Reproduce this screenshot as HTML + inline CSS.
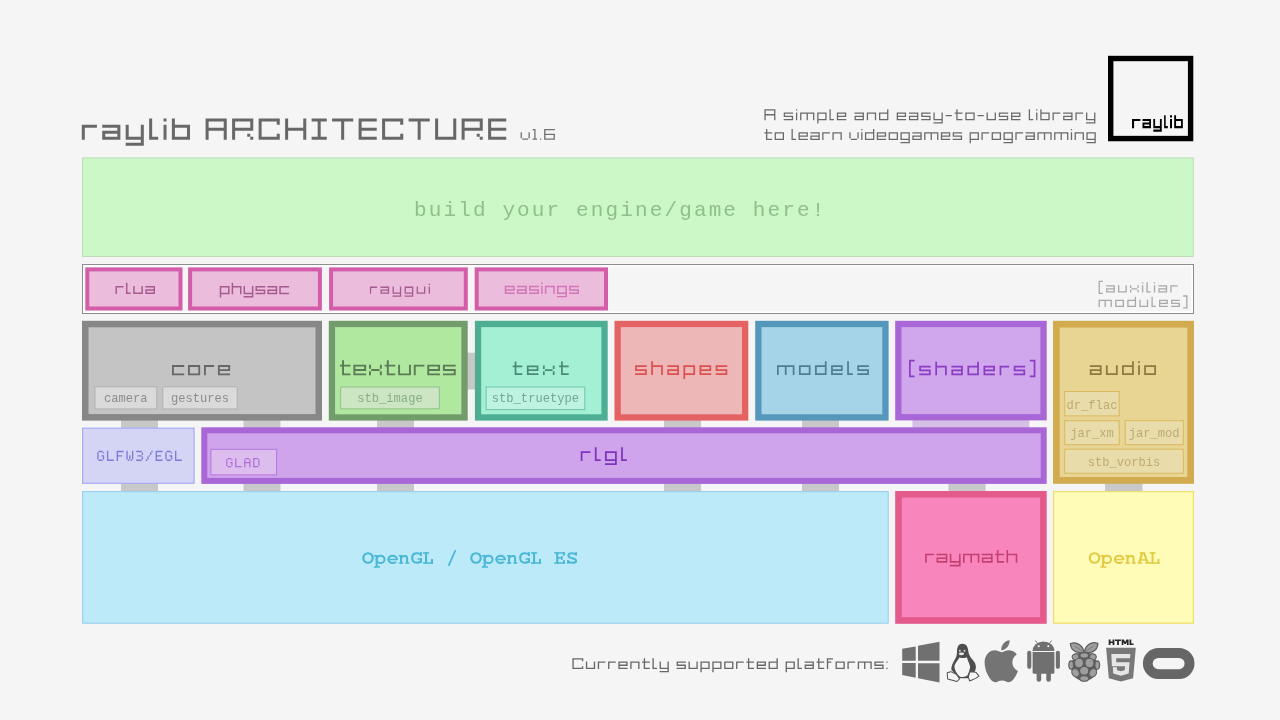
<!DOCTYPE html>
<html><head><meta charset="utf-8"><title>raylib architecture</title>
<style>
html,body{margin:0;padding:0;background:#f5f5f5;width:1280px;height:720px;overflow:hidden;font-family:"Liberation Sans",sans-serif;}
svg{display:block;position:absolute;left:0;top:0;will-change:transform;}
</style></head><body>
<svg width="1280" height="720" viewBox="0 0 1280 720">
<rect x="0" y="0" width="1280" height="720" fill="#f5f5f5"/>
<path fill="#686868" d="M81.80 124.64h15.11v3.02h-15.11zM81.80 127.66h3.02v3.02h-3.02zM81.80 130.69h3.02v3.02h-3.02zM81.80 133.71h3.02v3.02h-3.02zM81.80 136.73h3.02v3.02h-3.02zM102.23 124.64h18.13v3.02h-18.13zM117.34 127.66h3.02v3.02h-3.02zM102.23 130.69h18.13v3.02h-18.13zM102.23 133.71h3.02v3.02h-3.02zM117.34 133.71h3.02v3.02h-3.02zM102.23 136.73h18.13v3.02h-18.13zM125.68 124.64h3.02v3.02h-3.02zM140.79 124.64h3.02v3.02h-3.02zM125.68 127.66h3.02v3.02h-3.02zM140.79 127.66h3.02v3.02h-3.02zM125.68 130.69h3.02v3.02h-3.02zM140.79 130.69h3.02v3.02h-3.02zM125.68 133.71h3.02v3.02h-3.02zM140.79 133.71h3.02v3.02h-3.02zM125.68 136.73h18.13v3.02h-18.13zM140.79 139.75h3.02v3.02h-3.02zM125.68 142.77h18.13v3.02h-18.13zM149.14 118.60h3.02v3.02h-3.02zM149.14 121.62h3.02v3.02h-3.02zM149.14 124.64h3.02v3.02h-3.02zM149.14 127.66h3.02v3.02h-3.02zM149.14 130.69h3.02v3.02h-3.02zM149.14 133.71h3.02v3.02h-3.02zM149.14 136.73h9.06v3.02h-9.06zM163.53 118.60h3.02v3.02h-3.02zM163.53 124.64h3.02v3.02h-3.02zM163.53 127.66h3.02v3.02h-3.02zM163.53 130.69h3.02v3.02h-3.02zM163.53 133.71h3.02v3.02h-3.02zM163.53 136.73h3.02v3.02h-3.02zM171.87 118.60h3.02v3.02h-3.02zM171.87 121.62h3.02v3.02h-3.02zM171.87 124.64h18.13v3.02h-18.13zM171.87 127.66h3.02v3.02h-3.02zM186.98 127.66h3.02v3.02h-3.02zM171.87 130.69h3.02v3.02h-3.02zM186.98 130.69h3.02v3.02h-3.02zM171.87 133.71h3.02v3.02h-3.02zM186.98 133.71h3.02v3.02h-3.02zM171.87 136.73h18.13v3.02h-18.13z"/>
<path fill="#686868" d="M205.60 118.60h21.15v3.02h-21.15zM205.60 121.62h3.02v3.02h-3.02zM223.73 121.62h3.02v3.02h-3.02zM205.60 124.64h3.02v3.02h-3.02zM223.73 124.64h3.02v3.02h-3.02zM205.60 127.66h21.15v3.02h-21.15zM205.60 130.69h3.02v3.02h-3.02zM223.73 130.69h3.02v3.02h-3.02zM205.60 133.71h3.02v3.02h-3.02zM223.73 133.71h3.02v3.02h-3.02zM205.60 136.73h3.02v3.02h-3.02zM223.73 136.73h3.02v3.02h-3.02zM232.11 118.60h21.15v3.02h-21.15zM232.11 121.62h3.02v3.02h-3.02zM250.24 121.62h3.02v3.02h-3.02zM232.11 124.64h3.02v3.02h-3.02zM250.24 124.64h3.02v3.02h-3.02zM232.11 127.66h21.15v3.02h-21.15zM232.11 130.69h3.02v3.02h-3.02zM232.11 133.71h3.02v3.02h-3.02zM247.21 133.71h3.02v3.02h-3.02zM232.11 136.73h3.02v3.02h-3.02zM250.24 136.73h3.02v3.02h-3.02zM258.62 118.60h21.15v3.02h-21.15zM258.62 121.62h3.02v3.02h-3.02zM276.74 121.62h3.02v3.02h-3.02zM258.62 124.64h3.02v3.02h-3.02zM258.62 127.66h3.02v3.02h-3.02zM258.62 130.69h3.02v3.02h-3.02zM258.62 133.71h3.02v3.02h-3.02zM276.74 133.71h3.02v3.02h-3.02zM258.62 136.73h21.15v3.02h-21.15zM285.12 118.60h3.02v3.02h-3.02zM303.25 118.60h3.02v3.02h-3.02zM285.12 121.62h3.02v3.02h-3.02zM303.25 121.62h3.02v3.02h-3.02zM285.12 124.64h3.02v3.02h-3.02zM303.25 124.64h3.02v3.02h-3.02zM285.12 127.66h21.15v3.02h-21.15zM285.12 130.69h3.02v3.02h-3.02zM303.25 130.69h3.02v3.02h-3.02zM285.12 133.71h3.02v3.02h-3.02zM303.25 133.71h3.02v3.02h-3.02zM285.12 136.73h3.02v3.02h-3.02zM303.25 136.73h3.02v3.02h-3.02zM311.63 118.60h15.11v3.02h-15.11zM317.67 121.62h3.02v3.02h-3.02zM317.67 124.64h3.02v3.02h-3.02zM317.67 127.66h3.02v3.02h-3.02zM317.67 130.69h3.02v3.02h-3.02zM317.67 133.71h3.02v3.02h-3.02zM311.63 136.73h15.11v3.02h-15.11zM332.10 118.60h21.15v3.02h-21.15zM341.16 121.62h3.02v3.02h-3.02zM341.16 124.64h3.02v3.02h-3.02zM341.16 127.66h3.02v3.02h-3.02zM341.16 130.69h3.02v3.02h-3.02zM341.16 133.71h3.02v3.02h-3.02zM341.16 136.73h3.02v3.02h-3.02zM358.60 118.60h18.13v3.02h-18.13zM358.60 121.62h3.02v3.02h-3.02zM358.60 124.64h3.02v3.02h-3.02zM358.60 127.66h18.13v3.02h-18.13zM358.60 130.69h3.02v3.02h-3.02zM358.60 133.71h3.02v3.02h-3.02zM358.60 136.73h18.13v3.02h-18.13zM382.09 118.60h21.15v3.02h-21.15zM382.09 121.62h3.02v3.02h-3.02zM400.22 121.62h3.02v3.02h-3.02zM382.09 124.64h3.02v3.02h-3.02zM382.09 127.66h3.02v3.02h-3.02zM382.09 130.69h3.02v3.02h-3.02zM382.09 133.71h3.02v3.02h-3.02zM400.22 133.71h3.02v3.02h-3.02zM382.09 136.73h21.15v3.02h-21.15zM408.60 118.60h21.15v3.02h-21.15zM417.66 121.62h3.02v3.02h-3.02zM417.66 124.64h3.02v3.02h-3.02zM417.66 127.66h3.02v3.02h-3.02zM417.66 130.69h3.02v3.02h-3.02zM417.66 133.71h3.02v3.02h-3.02zM417.66 136.73h3.02v3.02h-3.02zM435.11 118.60h3.02v3.02h-3.02zM453.23 118.60h3.02v3.02h-3.02zM435.11 121.62h3.02v3.02h-3.02zM453.23 121.62h3.02v3.02h-3.02zM435.11 124.64h3.02v3.02h-3.02zM453.23 124.64h3.02v3.02h-3.02zM435.11 127.66h3.02v3.02h-3.02zM453.23 127.66h3.02v3.02h-3.02zM435.11 130.69h3.02v3.02h-3.02zM453.23 130.69h3.02v3.02h-3.02zM435.11 133.71h3.02v3.02h-3.02zM453.23 133.71h3.02v3.02h-3.02zM435.11 136.73h21.15v3.02h-21.15zM461.61 118.60h21.15v3.02h-21.15zM461.61 121.62h3.02v3.02h-3.02zM479.74 121.62h3.02v3.02h-3.02zM461.61 124.64h3.02v3.02h-3.02zM479.74 124.64h3.02v3.02h-3.02zM461.61 127.66h21.15v3.02h-21.15zM461.61 130.69h3.02v3.02h-3.02zM461.61 133.71h3.02v3.02h-3.02zM476.72 133.71h3.02v3.02h-3.02zM461.61 136.73h3.02v3.02h-3.02zM479.74 136.73h3.02v3.02h-3.02zM488.12 118.60h18.13v3.02h-18.13zM488.12 121.62h3.02v3.02h-3.02zM488.12 124.64h3.02v3.02h-3.02zM488.12 127.66h18.13v3.02h-18.13zM488.12 130.69h3.02v3.02h-3.02zM488.12 133.71h3.02v3.02h-3.02zM488.12 136.73h18.13v3.02h-18.13z"/>
<path fill="#737373" d="M520.60 132.15h1.34v1.34h-1.34zM528.48 132.15h1.34v1.34h-1.34zM520.60 133.73h1.34v1.34h-1.34zM528.48 133.73h1.34v1.34h-1.34zM520.60 135.31h1.34v1.34h-1.34zM528.48 135.31h1.34v1.34h-1.34zM520.60 136.88h1.34v1.34h-1.34zM528.48 136.88h1.34v1.34h-1.34zM522.18 138.46h6.07v1.34h-6.07zM520.60 132.15h1.34v6.07h-1.34zM528.48 132.15h1.34v6.07h-1.34zM532.64 129.00h2.92v1.34h-2.92zM534.21 130.58h1.34v1.34h-1.34zM534.21 132.15h1.34v1.34h-1.34zM534.21 133.73h1.34v1.34h-1.34zM534.21 135.31h1.34v1.34h-1.34zM534.21 136.88h1.34v1.34h-1.34zM532.64 138.46h4.49v1.34h-4.49zM534.21 129.00h1.34v10.80h-1.34zM539.95 138.46h1.34v1.34h-1.34zM544.10 129.00h10.80v1.34h-10.80zM544.10 130.58h1.34v1.34h-1.34zM544.10 132.15h1.34v1.34h-1.34zM544.10 133.73h10.80v1.34h-10.80zM544.10 135.31h1.34v1.34h-1.34zM553.56 135.31h1.34v1.34h-1.34zM544.10 136.88h1.34v1.34h-1.34zM553.56 136.88h1.34v1.34h-1.34zM544.10 138.46h10.80v1.34h-10.80zM544.10 129.00h1.34v10.80h-1.34zM553.56 133.73h1.34v6.07h-1.34z"/>
<path fill="#6a6a6a" d="M764.40 109.25h11.00v1.29h-11.00zM764.40 110.87h1.29v1.29h-1.29zM774.11 110.87h1.29v1.29h-1.29zM764.40 112.49h1.29v1.29h-1.29zM774.11 112.49h1.29v1.29h-1.29zM764.40 114.10h11.00v1.29h-11.00zM764.40 115.72h1.29v1.29h-1.29zM774.11 115.72h1.29v1.29h-1.29zM764.40 117.34h1.29v1.29h-1.29zM774.11 117.34h1.29v1.29h-1.29zM764.40 118.96h1.29v1.29h-1.29zM774.11 118.96h1.29v1.29h-1.29zM764.40 109.25h1.29v11.00h-1.29zM774.11 109.25h1.29v11.00h-1.29zM783.71 112.49h9.38v1.29h-9.38zM783.71 114.10h1.29v1.29h-1.29zM783.71 115.72h9.38v1.29h-9.38zM791.80 117.34h1.29v1.29h-1.29zM783.71 118.96h9.38v1.29h-9.38zM783.71 112.49h1.29v4.53h-1.29zM791.80 115.72h1.29v4.53h-1.29zM795.95 109.25h1.29v1.29h-1.29zM795.95 112.49h1.29v1.29h-1.29zM795.95 114.10h1.29v1.29h-1.29zM795.95 115.72h1.29v1.29h-1.29zM795.95 117.34h1.29v1.29h-1.29zM795.95 118.96h1.29v1.29h-1.29zM795.95 112.49h1.29v7.76h-1.29zM800.11 112.49h14.24v1.29h-14.24zM800.11 114.10h1.29v1.29h-1.29zM806.58 114.10h1.29v1.29h-1.29zM813.05 114.10h1.29v1.29h-1.29zM800.11 115.72h1.29v1.29h-1.29zM806.58 115.72h1.29v1.29h-1.29zM813.05 115.72h1.29v1.29h-1.29zM800.11 117.34h1.29v1.29h-1.29zM806.58 117.34h1.29v1.29h-1.29zM813.05 117.34h1.29v1.29h-1.29zM800.11 118.96h1.29v1.29h-1.29zM806.58 118.96h1.29v1.29h-1.29zM813.05 118.96h1.29v1.29h-1.29zM800.11 112.49h1.29v7.76h-1.29zM806.58 112.49h1.29v7.76h-1.29zM813.05 112.49h1.29v7.76h-1.29zM817.20 112.49h9.38v1.29h-9.38zM817.20 114.10h1.29v1.29h-1.29zM825.29 114.10h1.29v1.29h-1.29zM817.20 115.72h1.29v1.29h-1.29zM825.29 115.72h1.29v1.29h-1.29zM817.20 117.34h1.29v1.29h-1.29zM825.29 117.34h1.29v1.29h-1.29zM817.20 118.96h9.38v1.29h-9.38zM817.20 120.57h1.29v1.29h-1.29zM817.20 122.19h1.29v1.29h-1.29zM817.20 112.49h1.29v11.00h-1.29zM825.29 112.49h1.29v7.76h-1.29zM829.45 109.25h1.29v1.29h-1.29zM829.45 110.87h1.29v1.29h-1.29zM829.45 112.49h1.29v1.29h-1.29zM829.45 114.10h1.29v1.29h-1.29zM829.45 115.72h1.29v1.29h-1.29zM829.45 117.34h1.29v1.29h-1.29zM829.45 118.96h4.53v1.29h-4.53zM829.45 109.25h1.29v11.00h-1.29zM836.84 112.49h9.38v1.29h-9.38zM836.84 114.10h1.29v1.29h-1.29zM844.92 114.10h1.29v1.29h-1.29zM836.84 115.72h9.38v1.29h-9.38zM836.84 117.34h1.29v1.29h-1.29zM836.84 118.96h9.38v1.29h-9.38zM836.84 112.49h1.29v7.76h-1.29zM844.92 112.49h1.29v4.53h-1.29zM854.53 112.49h9.38v1.29h-9.38zM862.62 114.10h1.29v1.29h-1.29zM854.53 115.72h9.38v1.29h-9.38zM854.53 117.34h1.29v1.29h-1.29zM862.62 117.34h1.29v1.29h-1.29zM854.53 118.96h9.38v1.29h-9.38zM854.53 115.72h1.29v4.53h-1.29zM862.62 112.49h1.29v7.76h-1.29zM866.77 112.49h9.38v1.29h-9.38zM866.77 114.10h1.29v1.29h-1.29zM874.86 114.10h1.29v1.29h-1.29zM866.77 115.72h1.29v1.29h-1.29zM874.86 115.72h1.29v1.29h-1.29zM866.77 117.34h1.29v1.29h-1.29zM874.86 117.34h1.29v1.29h-1.29zM866.77 118.96h1.29v1.29h-1.29zM874.86 118.96h1.29v1.29h-1.29zM866.77 112.49h1.29v7.76h-1.29zM874.86 112.49h1.29v7.76h-1.29zM887.10 109.25h1.29v1.29h-1.29zM887.10 110.87h1.29v1.29h-1.29zM879.01 112.49h9.38v1.29h-9.38zM879.01 114.10h1.29v1.29h-1.29zM887.10 114.10h1.29v1.29h-1.29zM879.01 115.72h1.29v1.29h-1.29zM887.10 115.72h1.29v1.29h-1.29zM879.01 117.34h1.29v1.29h-1.29zM887.10 117.34h1.29v1.29h-1.29zM879.01 118.96h9.38v1.29h-9.38zM879.01 112.49h1.29v7.76h-1.29zM887.10 109.25h1.29v11.00h-1.29zM896.70 112.49h9.38v1.29h-9.38zM896.70 114.10h1.29v1.29h-1.29zM904.79 114.10h1.29v1.29h-1.29zM896.70 115.72h9.38v1.29h-9.38zM896.70 117.34h1.29v1.29h-1.29zM896.70 118.96h9.38v1.29h-9.38zM896.70 112.49h1.29v7.76h-1.29zM904.79 112.49h1.29v4.53h-1.29zM908.95 112.49h9.38v1.29h-9.38zM917.04 114.10h1.29v1.29h-1.29zM908.95 115.72h9.38v1.29h-9.38zM908.95 117.34h1.29v1.29h-1.29zM917.04 117.34h1.29v1.29h-1.29zM908.95 118.96h9.38v1.29h-9.38zM908.95 115.72h1.29v4.53h-1.29zM917.04 112.49h1.29v7.76h-1.29zM921.19 112.49h9.38v1.29h-9.38zM921.19 114.10h1.29v1.29h-1.29zM921.19 115.72h9.38v1.29h-9.38zM929.28 117.34h1.29v1.29h-1.29zM921.19 118.96h9.38v1.29h-9.38zM921.19 112.49h1.29v4.53h-1.29zM929.28 115.72h1.29v4.53h-1.29zM933.43 112.49h1.29v1.29h-1.29zM941.52 112.49h1.29v1.29h-1.29zM933.43 114.10h1.29v1.29h-1.29zM941.52 114.10h1.29v1.29h-1.29zM933.43 115.72h1.29v1.29h-1.29zM941.52 115.72h1.29v1.29h-1.29zM933.43 117.34h1.29v1.29h-1.29zM941.52 117.34h1.29v1.29h-1.29zM933.43 118.96h9.38v1.29h-9.38zM941.52 120.57h1.29v1.29h-1.29zM933.43 122.19h9.38v1.29h-9.38zM933.43 112.49h1.29v7.76h-1.29zM941.52 112.49h1.29v11.00h-1.29zM945.68 114.91h6.15v1.29h-6.15zM956.30 109.25h1.29v1.29h-1.29zM956.30 110.87h1.29v1.29h-1.29zM954.68 112.49h7.76v1.29h-7.76zM956.30 114.10h1.29v1.29h-1.29zM956.30 115.72h1.29v1.29h-1.29zM956.30 117.34h1.29v1.29h-1.29zM956.30 118.96h6.15v1.29h-6.15zM956.30 109.25h1.29v11.00h-1.29zM965.31 112.49h9.38v1.29h-9.38zM965.31 114.10h1.29v1.29h-1.29zM973.40 114.10h1.29v1.29h-1.29zM965.31 115.72h1.29v1.29h-1.29zM973.40 115.72h1.29v1.29h-1.29zM965.31 117.34h1.29v1.29h-1.29zM973.40 117.34h1.29v1.29h-1.29zM965.31 118.96h9.38v1.29h-9.38zM965.31 112.49h1.29v7.76h-1.29zM973.40 112.49h1.29v7.76h-1.29zM977.55 114.91h6.15v1.29h-6.15zM986.56 112.49h1.29v1.29h-1.29zM994.65 112.49h1.29v1.29h-1.29zM986.56 114.10h1.29v1.29h-1.29zM994.65 114.10h1.29v1.29h-1.29zM986.56 115.72h1.29v1.29h-1.29zM994.65 115.72h1.29v1.29h-1.29zM986.56 117.34h1.29v1.29h-1.29zM994.65 117.34h1.29v1.29h-1.29zM986.56 118.96h9.38v1.29h-9.38zM986.56 112.49h1.29v7.76h-1.29zM994.65 112.49h1.29v7.76h-1.29zM998.80 112.49h9.38v1.29h-9.38zM998.80 114.10h1.29v1.29h-1.29zM998.80 115.72h9.38v1.29h-9.38zM1006.89 117.34h1.29v1.29h-1.29zM998.80 118.96h9.38v1.29h-9.38zM998.80 112.49h1.29v4.53h-1.29zM1006.89 115.72h1.29v4.53h-1.29zM1011.05 112.49h9.38v1.29h-9.38zM1011.05 114.10h1.29v1.29h-1.29zM1019.13 114.10h1.29v1.29h-1.29zM1011.05 115.72h9.38v1.29h-9.38zM1011.05 117.34h1.29v1.29h-1.29zM1011.05 118.96h9.38v1.29h-9.38zM1011.05 112.49h1.29v7.76h-1.29zM1019.13 112.49h1.29v4.53h-1.29zM1028.74 109.25h1.29v1.29h-1.29zM1028.74 110.87h1.29v1.29h-1.29zM1028.74 112.49h1.29v1.29h-1.29zM1028.74 114.10h1.29v1.29h-1.29zM1028.74 115.72h1.29v1.29h-1.29zM1028.74 117.34h1.29v1.29h-1.29zM1028.74 118.96h4.53v1.29h-4.53zM1028.74 109.25h1.29v11.00h-1.29zM1036.13 109.25h1.29v1.29h-1.29zM1036.13 112.49h1.29v1.29h-1.29zM1036.13 114.10h1.29v1.29h-1.29zM1036.13 115.72h1.29v1.29h-1.29zM1036.13 117.34h1.29v1.29h-1.29zM1036.13 118.96h1.29v1.29h-1.29zM1036.13 112.49h1.29v7.76h-1.29zM1040.28 109.25h1.29v1.29h-1.29zM1040.28 110.87h1.29v1.29h-1.29zM1040.28 112.49h9.38v1.29h-9.38zM1040.28 114.10h1.29v1.29h-1.29zM1048.37 114.10h1.29v1.29h-1.29zM1040.28 115.72h1.29v1.29h-1.29zM1048.37 115.72h1.29v1.29h-1.29zM1040.28 117.34h1.29v1.29h-1.29zM1048.37 117.34h1.29v1.29h-1.29zM1040.28 118.96h9.38v1.29h-9.38zM1040.28 109.25h1.29v11.00h-1.29zM1048.37 112.49h1.29v7.76h-1.29zM1052.52 112.49h7.76v1.29h-7.76zM1052.52 114.10h1.29v1.29h-1.29zM1052.52 115.72h1.29v1.29h-1.29zM1052.52 117.34h1.29v1.29h-1.29zM1052.52 118.96h1.29v1.29h-1.29zM1052.52 112.49h1.29v7.76h-1.29zM1063.15 112.49h9.38v1.29h-9.38zM1071.24 114.10h1.29v1.29h-1.29zM1063.15 115.72h9.38v1.29h-9.38zM1063.15 117.34h1.29v1.29h-1.29zM1071.24 117.34h1.29v1.29h-1.29zM1063.15 118.96h9.38v1.29h-9.38zM1063.15 115.72h1.29v4.53h-1.29zM1071.24 112.49h1.29v7.76h-1.29zM1075.39 112.49h7.76v1.29h-7.76zM1075.39 114.10h1.29v1.29h-1.29zM1075.39 115.72h1.29v1.29h-1.29zM1075.39 117.34h1.29v1.29h-1.29zM1075.39 118.96h1.29v1.29h-1.29zM1075.39 112.49h1.29v7.76h-1.29zM1086.02 112.49h1.29v1.29h-1.29zM1094.11 112.49h1.29v1.29h-1.29zM1086.02 114.10h1.29v1.29h-1.29zM1094.11 114.10h1.29v1.29h-1.29zM1086.02 115.72h1.29v1.29h-1.29zM1094.11 115.72h1.29v1.29h-1.29zM1086.02 117.34h1.29v1.29h-1.29zM1094.11 117.34h1.29v1.29h-1.29zM1086.02 118.96h9.38v1.29h-9.38zM1094.11 120.57h1.29v1.29h-1.29zM1086.02 122.19h9.38v1.29h-9.38zM1086.02 112.49h1.29v7.76h-1.29zM1094.11 112.49h1.29v11.00h-1.29z"/>
<path fill="#6a6a6a" d="M766.02 129.00h1.29v1.29h-1.29zM766.02 130.62h1.29v1.29h-1.29zM764.40 132.24h7.76v1.29h-7.76zM766.02 133.85h1.29v1.29h-1.29zM766.02 135.47h1.29v1.29h-1.29zM766.02 137.09h1.29v1.29h-1.29zM766.02 138.71h6.15v1.29h-6.15zM766.02 129.00h1.29v11.00h-1.29zM774.63 132.24h9.38v1.29h-9.38zM774.63 133.85h1.29v1.29h-1.29zM782.72 133.85h1.29v1.29h-1.29zM774.63 135.47h1.29v1.29h-1.29zM782.72 135.47h1.29v1.29h-1.29zM774.63 137.09h1.29v1.29h-1.29zM782.72 137.09h1.29v1.29h-1.29zM774.63 138.71h9.38v1.29h-9.38zM774.63 132.24h1.29v7.76h-1.29zM782.72 132.24h1.29v7.76h-1.29zM791.52 129.00h1.29v1.29h-1.29zM791.52 130.62h1.29v1.29h-1.29zM791.52 132.24h1.29v1.29h-1.29zM791.52 133.85h1.29v1.29h-1.29zM791.52 135.47h1.29v1.29h-1.29zM791.52 137.09h1.29v1.29h-1.29zM791.52 138.71h4.53v1.29h-4.53zM791.52 129.00h1.29v11.00h-1.29zM798.51 132.24h9.38v1.29h-9.38zM798.51 133.85h1.29v1.29h-1.29zM806.60 133.85h1.29v1.29h-1.29zM798.51 135.47h9.38v1.29h-9.38zM798.51 137.09h1.29v1.29h-1.29zM798.51 138.71h9.38v1.29h-9.38zM798.51 132.24h1.29v7.76h-1.29zM806.60 132.24h1.29v4.53h-1.29zM810.36 132.24h9.38v1.29h-9.38zM818.45 133.85h1.29v1.29h-1.29zM810.36 135.47h9.38v1.29h-9.38zM810.36 137.09h1.29v1.29h-1.29zM818.45 137.09h1.29v1.29h-1.29zM810.36 138.71h9.38v1.29h-9.38zM810.36 135.47h1.29v4.53h-1.29zM818.45 132.24h1.29v7.76h-1.29zM822.20 132.24h7.76v1.29h-7.76zM822.20 133.85h1.29v1.29h-1.29zM822.20 135.47h1.29v1.29h-1.29zM822.20 137.09h1.29v1.29h-1.29zM822.20 138.71h1.29v1.29h-1.29zM822.20 132.24h1.29v7.76h-1.29zM832.43 132.24h9.38v1.29h-9.38zM832.43 133.85h1.29v1.29h-1.29zM840.52 133.85h1.29v1.29h-1.29zM832.43 135.47h1.29v1.29h-1.29zM840.52 135.47h1.29v1.29h-1.29zM832.43 137.09h1.29v1.29h-1.29zM840.52 137.09h1.29v1.29h-1.29zM832.43 138.71h1.29v1.29h-1.29zM840.52 138.71h1.29v1.29h-1.29zM832.43 132.24h1.29v7.76h-1.29zM840.52 132.24h1.29v7.76h-1.29zM849.33 132.24h1.29v1.29h-1.29zM857.41 132.24h1.29v1.29h-1.29zM849.33 133.85h1.29v1.29h-1.29zM857.41 133.85h1.29v1.29h-1.29zM849.33 135.47h1.29v1.29h-1.29zM857.41 135.47h1.29v1.29h-1.29zM849.33 137.09h1.29v1.29h-1.29zM857.41 137.09h1.29v1.29h-1.29zM850.94 138.71h6.15v1.29h-6.15zM849.33 132.24h1.29v6.15h-1.29zM857.41 132.24h1.29v6.15h-1.29zM861.17 129.00h1.29v1.29h-1.29zM861.17 132.24h1.29v1.29h-1.29zM861.17 133.85h1.29v1.29h-1.29zM861.17 135.47h1.29v1.29h-1.29zM861.17 137.09h1.29v1.29h-1.29zM861.17 138.71h1.29v1.29h-1.29zM861.17 132.24h1.29v7.76h-1.29zM873.02 129.00h1.29v1.29h-1.29zM873.02 130.62h1.29v1.29h-1.29zM864.93 132.24h9.38v1.29h-9.38zM864.93 133.85h1.29v1.29h-1.29zM873.02 133.85h1.29v1.29h-1.29zM864.93 135.47h1.29v1.29h-1.29zM873.02 135.47h1.29v1.29h-1.29zM864.93 137.09h1.29v1.29h-1.29zM873.02 137.09h1.29v1.29h-1.29zM864.93 138.71h9.38v1.29h-9.38zM864.93 132.24h1.29v7.76h-1.29zM873.02 129.00h1.29v11.00h-1.29zM876.77 132.24h9.38v1.29h-9.38zM876.77 133.85h1.29v1.29h-1.29zM884.86 133.85h1.29v1.29h-1.29zM876.77 135.47h9.38v1.29h-9.38zM876.77 137.09h1.29v1.29h-1.29zM876.77 138.71h9.38v1.29h-9.38zM876.77 132.24h1.29v7.76h-1.29zM884.86 132.24h1.29v4.53h-1.29zM888.62 132.24h9.38v1.29h-9.38zM888.62 133.85h1.29v1.29h-1.29zM896.70 133.85h1.29v1.29h-1.29zM888.62 135.47h1.29v1.29h-1.29zM896.70 135.47h1.29v1.29h-1.29zM888.62 137.09h1.29v1.29h-1.29zM896.70 137.09h1.29v1.29h-1.29zM888.62 138.71h9.38v1.29h-9.38zM888.62 132.24h1.29v7.76h-1.29zM896.70 132.24h1.29v7.76h-1.29zM900.46 132.24h9.38v1.29h-9.38zM900.46 133.85h1.29v1.29h-1.29zM908.55 133.85h1.29v1.29h-1.29zM900.46 135.47h1.29v1.29h-1.29zM908.55 135.47h1.29v1.29h-1.29zM900.46 137.09h1.29v1.29h-1.29zM908.55 137.09h1.29v1.29h-1.29zM900.46 138.71h9.38v1.29h-9.38zM908.55 140.32h1.29v1.29h-1.29zM900.46 141.94h9.38v1.29h-9.38zM900.46 132.24h1.29v7.76h-1.29zM908.55 132.24h1.29v11.00h-1.29zM912.31 132.24h9.38v1.29h-9.38zM920.39 133.85h1.29v1.29h-1.29zM912.31 135.47h9.38v1.29h-9.38zM912.31 137.09h1.29v1.29h-1.29zM920.39 137.09h1.29v1.29h-1.29zM912.31 138.71h9.38v1.29h-9.38zM912.31 135.47h1.29v4.53h-1.29zM920.39 132.24h1.29v7.76h-1.29zM924.15 132.24h14.24v1.29h-14.24zM924.15 133.85h1.29v1.29h-1.29zM930.62 133.85h1.29v1.29h-1.29zM937.09 133.85h1.29v1.29h-1.29zM924.15 135.47h1.29v1.29h-1.29zM930.62 135.47h1.29v1.29h-1.29zM937.09 135.47h1.29v1.29h-1.29zM924.15 137.09h1.29v1.29h-1.29zM930.62 137.09h1.29v1.29h-1.29zM937.09 137.09h1.29v1.29h-1.29zM924.15 138.71h1.29v1.29h-1.29zM930.62 138.71h1.29v1.29h-1.29zM937.09 138.71h1.29v1.29h-1.29zM924.15 132.24h1.29v7.76h-1.29zM930.62 132.24h1.29v7.76h-1.29zM937.09 132.24h1.29v7.76h-1.29zM940.85 132.24h9.38v1.29h-9.38zM940.85 133.85h1.29v1.29h-1.29zM948.94 133.85h1.29v1.29h-1.29zM940.85 135.47h9.38v1.29h-9.38zM940.85 137.09h1.29v1.29h-1.29zM940.85 138.71h9.38v1.29h-9.38zM940.85 132.24h1.29v7.76h-1.29zM948.94 132.24h1.29v4.53h-1.29zM952.69 132.24h9.38v1.29h-9.38zM952.69 133.85h1.29v1.29h-1.29zM952.69 135.47h9.38v1.29h-9.38zM960.78 137.09h1.29v1.29h-1.29zM952.69 138.71h9.38v1.29h-9.38zM952.69 132.24h1.29v4.53h-1.29zM960.78 135.47h1.29v4.53h-1.29zM969.59 132.24h9.38v1.29h-9.38zM969.59 133.85h1.29v1.29h-1.29zM977.68 133.85h1.29v1.29h-1.29zM969.59 135.47h1.29v1.29h-1.29zM977.68 135.47h1.29v1.29h-1.29zM969.59 137.09h1.29v1.29h-1.29zM977.68 137.09h1.29v1.29h-1.29zM969.59 138.71h9.38v1.29h-9.38zM969.59 140.32h1.29v1.29h-1.29zM969.59 141.94h1.29v1.29h-1.29zM969.59 132.24h1.29v11.00h-1.29zM977.68 132.24h1.29v7.76h-1.29zM981.43 132.24h7.76v1.29h-7.76zM981.43 133.85h1.29v1.29h-1.29zM981.43 135.47h1.29v1.29h-1.29zM981.43 137.09h1.29v1.29h-1.29zM981.43 138.71h1.29v1.29h-1.29zM981.43 132.24h1.29v7.76h-1.29zM991.66 132.24h9.38v1.29h-9.38zM991.66 133.85h1.29v1.29h-1.29zM999.75 133.85h1.29v1.29h-1.29zM991.66 135.47h1.29v1.29h-1.29zM999.75 135.47h1.29v1.29h-1.29zM991.66 137.09h1.29v1.29h-1.29zM999.75 137.09h1.29v1.29h-1.29zM991.66 138.71h9.38v1.29h-9.38zM991.66 132.24h1.29v7.76h-1.29zM999.75 132.24h1.29v7.76h-1.29zM1003.50 132.24h9.38v1.29h-9.38zM1003.50 133.85h1.29v1.29h-1.29zM1011.59 133.85h1.29v1.29h-1.29zM1003.50 135.47h1.29v1.29h-1.29zM1011.59 135.47h1.29v1.29h-1.29zM1003.50 137.09h1.29v1.29h-1.29zM1011.59 137.09h1.29v1.29h-1.29zM1003.50 138.71h9.38v1.29h-9.38zM1011.59 140.32h1.29v1.29h-1.29zM1003.50 141.94h9.38v1.29h-9.38zM1003.50 132.24h1.29v7.76h-1.29zM1011.59 132.24h1.29v11.00h-1.29zM1015.35 132.24h7.76v1.29h-7.76zM1015.35 133.85h1.29v1.29h-1.29zM1015.35 135.47h1.29v1.29h-1.29zM1015.35 137.09h1.29v1.29h-1.29zM1015.35 138.71h1.29v1.29h-1.29zM1015.35 132.24h1.29v7.76h-1.29zM1025.58 132.24h9.38v1.29h-9.38zM1033.66 133.85h1.29v1.29h-1.29zM1025.58 135.47h9.38v1.29h-9.38zM1025.58 137.09h1.29v1.29h-1.29zM1033.66 137.09h1.29v1.29h-1.29zM1025.58 138.71h9.38v1.29h-9.38zM1025.58 135.47h1.29v4.53h-1.29zM1033.66 132.24h1.29v7.76h-1.29zM1037.42 132.24h14.24v1.29h-14.24zM1037.42 133.85h1.29v1.29h-1.29zM1043.89 133.85h1.29v1.29h-1.29zM1050.36 133.85h1.29v1.29h-1.29zM1037.42 135.47h1.29v1.29h-1.29zM1043.89 135.47h1.29v1.29h-1.29zM1050.36 135.47h1.29v1.29h-1.29zM1037.42 137.09h1.29v1.29h-1.29zM1043.89 137.09h1.29v1.29h-1.29zM1050.36 137.09h1.29v1.29h-1.29zM1037.42 138.71h1.29v1.29h-1.29zM1043.89 138.71h1.29v1.29h-1.29zM1050.36 138.71h1.29v1.29h-1.29zM1037.42 132.24h1.29v7.76h-1.29zM1043.89 132.24h1.29v7.76h-1.29zM1050.36 132.24h1.29v7.76h-1.29zM1054.12 132.24h14.24v1.29h-14.24zM1054.12 133.85h1.29v1.29h-1.29zM1060.59 133.85h1.29v1.29h-1.29zM1067.06 133.85h1.29v1.29h-1.29zM1054.12 135.47h1.29v1.29h-1.29zM1060.59 135.47h1.29v1.29h-1.29zM1067.06 135.47h1.29v1.29h-1.29zM1054.12 137.09h1.29v1.29h-1.29zM1060.59 137.09h1.29v1.29h-1.29zM1067.06 137.09h1.29v1.29h-1.29zM1054.12 138.71h1.29v1.29h-1.29zM1060.59 138.71h1.29v1.29h-1.29zM1067.06 138.71h1.29v1.29h-1.29zM1054.12 132.24h1.29v7.76h-1.29zM1060.59 132.24h1.29v7.76h-1.29zM1067.06 132.24h1.29v7.76h-1.29zM1070.82 129.00h1.29v1.29h-1.29zM1070.82 132.24h1.29v1.29h-1.29zM1070.82 133.85h1.29v1.29h-1.29zM1070.82 135.47h1.29v1.29h-1.29zM1070.82 137.09h1.29v1.29h-1.29zM1070.82 138.71h1.29v1.29h-1.29zM1070.82 132.24h1.29v7.76h-1.29zM1074.57 132.24h9.38v1.29h-9.38zM1074.57 133.85h1.29v1.29h-1.29zM1082.66 133.85h1.29v1.29h-1.29zM1074.57 135.47h1.29v1.29h-1.29zM1082.66 135.47h1.29v1.29h-1.29zM1074.57 137.09h1.29v1.29h-1.29zM1082.66 137.09h1.29v1.29h-1.29zM1074.57 138.71h1.29v1.29h-1.29zM1082.66 138.71h1.29v1.29h-1.29zM1074.57 132.24h1.29v7.76h-1.29zM1082.66 132.24h1.29v7.76h-1.29zM1086.42 132.24h9.38v1.29h-9.38zM1086.42 133.85h1.29v1.29h-1.29zM1094.51 133.85h1.29v1.29h-1.29zM1086.42 135.47h1.29v1.29h-1.29zM1094.51 135.47h1.29v1.29h-1.29zM1086.42 137.09h1.29v1.29h-1.29zM1094.51 137.09h1.29v1.29h-1.29zM1086.42 138.71h9.38v1.29h-9.38zM1094.51 140.32h1.29v1.29h-1.29zM1086.42 141.94h9.38v1.29h-9.38zM1086.42 132.24h1.29v7.76h-1.29zM1094.51 132.24h1.29v11.00h-1.29z"/>
<rect x="1108.00" y="55.80" width="85.30" height="85.45" fill="#000000"/>
<rect x="1113.40" y="61.20" width="74.50" height="74.65" fill="#f5f5f5"/>
<path fill="#000" d="M1132.00 118.90h8.40v2.13h-8.40zM1132.00 120.68h2.08v2.13h-2.08zM1132.00 122.46h2.08v2.13h-2.08zM1132.00 124.24h2.08v2.13h-2.08zM1132.00 126.02h2.08v2.13h-2.08zM1142.50 118.90h8.50v2.13h-8.50zM1149.17 120.68h1.83v2.13h-1.83zM1142.50 122.46h8.50v2.13h-8.50zM1142.50 124.24h1.83v2.13h-1.83zM1149.17 124.24h1.83v2.13h-1.83zM1142.50 126.02h8.50v2.13h-8.50zM1153.30 118.90h1.82v2.13h-1.82zM1159.92 118.90h1.82v2.13h-1.82zM1153.30 120.68h1.82v2.13h-1.82zM1159.92 120.68h1.82v2.13h-1.82zM1153.30 122.46h1.82v2.13h-1.82zM1159.92 122.46h1.82v2.13h-1.82zM1153.30 124.24h1.82v2.13h-1.82zM1159.92 124.24h1.82v2.13h-1.82zM1153.30 126.02h8.45v2.13h-8.45zM1159.92 127.80h1.82v2.13h-1.82zM1153.30 129.58h8.45v2.13h-8.45zM1164.10 115.34h1.57v2.13h-1.57zM1164.10 117.12h1.57v2.13h-1.57zM1164.10 118.90h1.57v2.13h-1.57zM1164.10 120.68h1.57v2.13h-1.57zM1164.10 122.46h1.57v2.13h-1.57zM1164.10 124.24h1.57v2.13h-1.57zM1164.10 126.02h3.70v2.13h-3.70zM1170.00 115.34h2.00v2.13h-2.00zM1170.00 118.90h2.00v2.13h-2.00zM1170.00 120.68h2.00v2.13h-2.00zM1170.00 122.46h2.00v2.13h-2.00zM1170.00 124.24h2.00v2.13h-2.00zM1170.00 126.02h2.00v2.13h-2.00zM1174.20 115.34h1.86v2.13h-1.86zM1174.20 117.12h1.86v2.13h-1.86zM1174.20 118.90h8.65v2.13h-8.65zM1174.20 120.68h1.86v2.13h-1.86zM1180.99 120.68h1.86v2.13h-1.86zM1174.20 122.46h1.86v2.13h-1.86zM1180.99 122.46h1.86v2.13h-1.86zM1174.20 124.24h1.86v2.13h-1.86zM1180.99 124.24h1.86v2.13h-1.86zM1174.20 126.02h8.65v2.13h-8.65z"/>
<rect x="82.00" y="157.40" width="1111.80" height="99.60" fill="#bcdcb6"/>
<rect x="83.00" y="158.40" width="1109.80" height="97.60" fill="#cbf8c6"/>
<rect x="82.00" y="264.00" width="1112.00" height="50.00" fill="#8c8c8c"/>
<rect x="83.00" y="265.00" width="1110.00" height="48.00" fill="#ffffff"/>
<rect x="84.50" y="266.50" width="1107.00" height="45.00" fill="#f5f5f5"/>
<rect x="85.30" y="267.40" width="97.20" height="43.10" fill="#d45da9"/>
<rect x="89.30" y="271.40" width="89.20" height="35.10" fill="#ebbcdc"/>
<rect x="188.10" y="267.40" width="133.80" height="43.10" fill="#d45da9"/>
<rect x="192.10" y="271.40" width="125.80" height="35.10" fill="#ebbcdc"/>
<rect x="329.10" y="267.40" width="138.70" height="43.10" fill="#d45da9"/>
<rect x="333.10" y="271.40" width="130.70" height="35.10" fill="#ebbcdc"/>
<rect x="474.70" y="267.40" width="133.30" height="43.10" fill="#d45da9"/>
<rect x="478.70" y="271.40" width="125.30" height="35.10" fill="#ebbcdc"/>
<path fill="#a55b8f" d="M115.50 286.00h8.00v1.44h-8.00zM115.50 287.64h1.44v1.44h-1.44zM115.50 289.28h1.44v1.44h-1.44zM115.50 290.92h1.44v1.44h-1.44zM115.50 292.56h1.44v1.44h-1.44zM115.50 286.00h1.44v8.00h-1.44zM126.00 282.72h1.44v1.44h-1.44zM126.00 284.36h1.44v1.44h-1.44zM126.00 286.00h1.44v1.44h-1.44zM126.00 287.64h1.44v1.44h-1.44zM126.00 289.28h1.44v1.44h-1.44zM126.00 290.92h1.44v1.44h-1.44zM126.00 292.56h4.72v1.44h-4.72zM126.00 282.72h1.44v11.28h-1.44zM133.22 286.00h1.44v1.44h-1.44zM141.42 286.00h1.44v1.44h-1.44zM133.22 287.64h1.44v1.44h-1.44zM141.42 287.64h1.44v1.44h-1.44zM133.22 289.28h1.44v1.44h-1.44zM141.42 289.28h1.44v1.44h-1.44zM133.22 290.92h1.44v1.44h-1.44zM141.42 290.92h1.44v1.44h-1.44zM133.22 292.56h9.64v1.44h-9.64zM133.22 286.00h1.44v8.00h-1.44zM141.42 286.00h1.44v8.00h-1.44zM145.36 286.00h9.64v1.44h-9.64zM153.56 287.64h1.44v1.44h-1.44zM145.36 289.28h9.64v1.44h-9.64zM145.36 290.92h1.44v1.44h-1.44zM153.56 290.92h1.44v1.44h-1.44zM145.36 292.56h9.64v1.44h-9.64zM145.36 289.28h1.44v4.72h-1.44zM153.56 286.00h1.44v8.00h-1.44z"/>
<path fill="#a55b8f" d="M219.75 286.10h9.82v1.47h-9.82zM219.75 287.77h1.47v1.47h-1.47zM228.10 287.77h1.47v1.47h-1.47zM219.75 289.44h1.47v1.47h-1.47zM228.10 289.44h1.47v1.47h-1.47zM219.75 291.11h1.47v1.47h-1.47zM228.10 291.11h1.47v1.47h-1.47zM219.75 292.78h9.82v1.47h-9.82zM219.75 294.45h1.47v1.47h-1.47zM219.75 296.12h1.47v1.47h-1.47zM219.75 286.10h1.47v11.49h-1.47zM228.10 286.10h1.47v8.15h-1.47zM231.66 282.76h1.47v1.47h-1.47zM231.66 284.43h1.47v1.47h-1.47zM231.66 286.10h9.82v1.47h-9.82zM231.66 287.77h1.47v1.47h-1.47zM240.01 287.77h1.47v1.47h-1.47zM231.66 289.44h1.47v1.47h-1.47zM240.01 289.44h1.47v1.47h-1.47zM231.66 291.11h1.47v1.47h-1.47zM240.01 291.11h1.47v1.47h-1.47zM231.66 292.78h1.47v1.47h-1.47zM240.01 292.78h1.47v1.47h-1.47zM231.66 282.76h1.47v11.49h-1.47zM240.01 286.10h1.47v8.15h-1.47zM243.56 286.10h1.47v1.47h-1.47zM251.91 286.10h1.47v1.47h-1.47zM243.56 287.77h1.47v1.47h-1.47zM251.91 287.77h1.47v1.47h-1.47zM243.56 289.44h1.47v1.47h-1.47zM251.91 289.44h1.47v1.47h-1.47zM243.56 291.11h1.47v1.47h-1.47zM251.91 291.11h1.47v1.47h-1.47zM243.56 292.78h9.82v1.47h-9.82zM251.91 294.45h1.47v1.47h-1.47zM243.56 296.12h9.82v1.47h-9.82zM243.56 286.10h1.47v8.15h-1.47zM251.91 286.10h1.47v11.49h-1.47zM255.47 286.10h9.82v1.47h-9.82zM255.47 287.77h1.47v1.47h-1.47zM255.47 289.44h9.82v1.47h-9.82zM263.82 291.11h1.47v1.47h-1.47zM255.47 292.78h9.82v1.47h-9.82zM255.47 286.10h1.47v4.81h-1.47zM263.82 289.44h1.47v4.81h-1.47zM267.37 286.10h9.82v1.47h-9.82zM275.72 287.77h1.47v1.47h-1.47zM267.37 289.44h9.82v1.47h-9.82zM267.37 291.11h1.47v1.47h-1.47zM275.72 291.11h1.47v1.47h-1.47zM267.37 292.78h9.82v1.47h-9.82zM267.37 289.44h1.47v4.81h-1.47zM275.72 286.10h1.47v8.15h-1.47zM279.28 286.10h9.82v1.47h-9.82zM279.28 287.77h1.47v1.47h-1.47zM279.28 289.44h1.47v1.47h-1.47zM279.28 291.11h1.47v1.47h-1.47zM279.28 292.78h9.82v1.47h-9.82zM279.28 286.10h1.47v8.15h-1.47z"/>
<path fill="#a55b8f" d="M369.90 286.60h7.20v1.30h-7.20zM369.90 288.08h1.30v1.30h-1.30zM369.90 289.55h1.30v1.30h-1.30zM369.90 291.03h1.30v1.30h-1.30zM369.90 292.50h1.30v1.30h-1.30zM369.90 286.60h1.30v7.20h-1.30zM380.48 286.60h8.68v1.30h-8.68zM387.86 288.08h1.30v1.30h-1.30zM380.48 289.55h8.68v1.30h-8.68zM380.48 291.03h1.30v1.30h-1.30zM387.86 291.03h1.30v1.30h-1.30zM380.48 292.50h8.68v1.30h-8.68zM380.48 289.55h1.30v4.25h-1.30zM387.86 286.60h1.30v7.20h-1.30zM392.54 286.60h1.30v1.30h-1.30zM399.91 286.60h1.30v1.30h-1.30zM392.54 288.08h1.30v1.30h-1.30zM399.91 288.08h1.30v1.30h-1.30zM392.54 289.55h1.30v1.30h-1.30zM399.91 289.55h1.30v1.30h-1.30zM392.54 291.03h1.30v1.30h-1.30zM399.91 291.03h1.30v1.30h-1.30zM392.54 292.50h8.68v1.30h-8.68zM399.91 293.98h1.30v1.30h-1.30zM392.54 295.45h8.68v1.30h-8.68zM392.54 286.60h1.30v7.20h-1.30zM399.91 286.60h1.30v10.15h-1.30zM404.59 286.60h8.68v1.30h-8.68zM404.59 288.08h1.30v1.30h-1.30zM411.97 288.08h1.30v1.30h-1.30zM404.59 289.55h1.30v1.30h-1.30zM411.97 289.55h1.30v1.30h-1.30zM404.59 291.03h1.30v1.30h-1.30zM411.97 291.03h1.30v1.30h-1.30zM404.59 292.50h8.68v1.30h-8.68zM411.97 293.98h1.30v1.30h-1.30zM404.59 295.45h8.68v1.30h-8.68zM404.59 286.60h1.30v7.20h-1.30zM411.97 286.60h1.30v10.15h-1.30zM416.65 286.60h1.30v1.30h-1.30zM424.02 286.60h1.30v1.30h-1.30zM416.65 288.08h1.30v1.30h-1.30zM424.02 288.08h1.30v1.30h-1.30zM416.65 289.55h1.30v1.30h-1.30zM424.02 289.55h1.30v1.30h-1.30zM416.65 291.03h1.30v1.30h-1.30zM424.02 291.03h1.30v1.30h-1.30zM416.65 292.50h8.68v1.30h-8.68zM416.65 286.60h1.30v7.20h-1.30zM424.02 286.60h1.30v7.20h-1.30zM428.70 283.65h1.30v1.30h-1.30zM428.70 286.60h1.30v1.30h-1.30zM428.70 288.08h1.30v1.30h-1.30zM428.70 289.55h1.30v1.30h-1.30zM428.70 291.03h1.30v1.30h-1.30zM428.70 292.50h1.30v1.30h-1.30zM428.70 286.60h1.30v7.20h-1.30z"/>
<path fill="#d276b6" d="M504.80 285.80h9.88v1.48h-9.88zM504.80 287.48h1.48v1.48h-1.48zM513.20 287.48h1.48v1.48h-1.48zM504.80 289.16h9.88v1.48h-9.88zM504.80 290.84h1.48v1.48h-1.48zM504.80 292.52h9.88v1.48h-9.88zM504.80 285.80h1.48v8.20h-1.48zM513.20 285.80h1.48v4.84h-1.48zM516.92 285.80h9.88v1.48h-9.88zM525.32 287.48h1.48v1.48h-1.48zM516.92 289.16h9.88v1.48h-9.88zM516.92 290.84h1.48v1.48h-1.48zM525.32 290.84h1.48v1.48h-1.48zM516.92 292.52h9.88v1.48h-9.88zM516.92 289.16h1.48v4.84h-1.48zM525.32 285.80h1.48v8.20h-1.48zM529.04 285.80h9.88v1.48h-9.88zM529.04 287.48h1.48v1.48h-1.48zM529.04 289.16h9.88v1.48h-9.88zM537.44 290.84h1.48v1.48h-1.48zM529.04 292.52h9.88v1.48h-9.88zM529.04 285.80h1.48v4.84h-1.48zM537.44 289.16h1.48v4.84h-1.48zM541.16 282.44h1.48v1.48h-1.48zM541.16 285.80h1.48v1.48h-1.48zM541.16 287.48h1.48v1.48h-1.48zM541.16 289.16h1.48v1.48h-1.48zM541.16 290.84h1.48v1.48h-1.48zM541.16 292.52h1.48v1.48h-1.48zM541.16 285.80h1.48v8.20h-1.48zM544.88 285.80h9.88v1.48h-9.88zM544.88 287.48h1.48v1.48h-1.48zM553.28 287.48h1.48v1.48h-1.48zM544.88 289.16h1.48v1.48h-1.48zM553.28 289.16h1.48v1.48h-1.48zM544.88 290.84h1.48v1.48h-1.48zM553.28 290.84h1.48v1.48h-1.48zM544.88 292.52h1.48v1.48h-1.48zM553.28 292.52h1.48v1.48h-1.48zM544.88 285.80h1.48v8.20h-1.48zM553.28 285.80h1.48v8.20h-1.48zM557.00 285.80h9.88v1.48h-9.88zM557.00 287.48h1.48v1.48h-1.48zM565.40 287.48h1.48v1.48h-1.48zM557.00 289.16h1.48v1.48h-1.48zM565.40 289.16h1.48v1.48h-1.48zM557.00 290.84h1.48v1.48h-1.48zM565.40 290.84h1.48v1.48h-1.48zM557.00 292.52h9.88v1.48h-9.88zM565.40 294.20h1.48v1.48h-1.48zM557.00 295.88h9.88v1.48h-9.88zM557.00 285.80h1.48v8.20h-1.48zM565.40 285.80h1.48v11.56h-1.48zM569.12 285.80h9.88v1.48h-9.88zM569.12 287.48h1.48v1.48h-1.48zM569.12 289.16h9.88v1.48h-9.88zM577.52 290.84h1.48v1.48h-1.48zM569.12 292.52h9.88v1.48h-9.88zM569.12 285.80h1.48v4.84h-1.48zM577.52 289.16h1.48v4.84h-1.48z"/>
<path fill="#a9a9a9" d="M1098.60 280.71h4.31v1.32h-4.31zM1098.60 282.21h1.32v1.32h-1.32zM1098.60 283.70h1.32v1.32h-1.32zM1098.60 285.20h1.32v1.32h-1.32zM1098.60 286.70h1.32v1.32h-1.32zM1098.60 288.19h1.32v1.32h-1.32zM1098.60 289.69h1.32v1.32h-1.32zM1098.60 291.18h1.32v1.32h-1.32zM1098.60 292.68h4.31v1.32h-4.31zM1098.60 280.71h1.32v13.28h-1.32zM1106.07 285.20h8.80v1.32h-8.80zM1113.55 286.70h1.32v1.32h-1.32zM1106.07 288.19h8.80v1.32h-8.80zM1106.07 289.69h1.32v1.32h-1.32zM1113.55 289.69h1.32v1.32h-1.32zM1106.07 291.18h8.80v1.32h-8.80zM1106.07 288.19h1.32v4.31h-1.32zM1113.55 285.20h1.32v7.30h-1.32zM1118.02 285.20h1.32v1.32h-1.32zM1125.50 285.20h1.32v1.32h-1.32zM1118.02 286.70h1.32v1.32h-1.32zM1125.50 286.70h1.32v1.32h-1.32zM1118.02 288.19h1.32v1.32h-1.32zM1125.50 288.19h1.32v1.32h-1.32zM1118.02 289.69h1.32v1.32h-1.32zM1125.50 289.69h1.32v1.32h-1.32zM1118.02 291.18h8.80v1.32h-8.80zM1118.02 285.20h1.32v7.30h-1.32zM1125.50 285.20h1.32v7.30h-1.32zM1129.98 285.20h1.32v1.32h-1.32zM1137.45 285.20h1.32v1.32h-1.32zM1129.98 286.70h1.32v1.32h-1.32zM1137.45 286.70h1.32v1.32h-1.32zM1131.47 288.19h5.80v1.32h-5.80zM1129.98 289.69h1.32v1.32h-1.32zM1137.45 289.69h1.32v1.32h-1.32zM1129.98 291.18h1.32v1.32h-1.32zM1137.45 291.18h1.32v1.32h-1.32zM1129.98 285.20h1.32v2.81h-1.32zM1129.98 289.69h1.32v2.81h-1.32zM1137.45 285.20h1.32v2.81h-1.32zM1137.45 289.69h1.32v2.81h-1.32zM1141.93 282.21h1.32v1.32h-1.32zM1141.93 285.20h1.32v1.32h-1.32zM1141.93 286.70h1.32v1.32h-1.32zM1141.93 288.19h1.32v1.32h-1.32zM1141.93 289.69h1.32v1.32h-1.32zM1141.93 291.18h1.32v1.32h-1.32zM1141.93 285.20h1.32v7.30h-1.32zM1146.40 282.21h1.32v1.32h-1.32zM1146.40 283.70h1.32v1.32h-1.32zM1146.40 285.20h1.32v1.32h-1.32zM1146.40 286.70h1.32v1.32h-1.32zM1146.40 288.19h1.32v1.32h-1.32zM1146.40 289.69h1.32v1.32h-1.32zM1146.40 291.18h4.31v1.32h-4.31zM1146.40 282.21h1.32v10.29h-1.32zM1153.87 282.21h1.32v1.32h-1.32zM1153.87 285.20h1.32v1.32h-1.32zM1153.87 286.70h1.32v1.32h-1.32zM1153.87 288.19h1.32v1.32h-1.32zM1153.87 289.69h1.32v1.32h-1.32zM1153.87 291.18h1.32v1.32h-1.32zM1153.87 285.20h1.32v7.30h-1.32zM1158.35 285.20h8.80v1.32h-8.80zM1165.83 286.70h1.32v1.32h-1.32zM1158.35 288.19h8.80v1.32h-8.80zM1158.35 289.69h1.32v1.32h-1.32zM1165.83 289.69h1.32v1.32h-1.32zM1158.35 291.18h8.80v1.32h-8.80zM1158.35 288.19h1.32v4.31h-1.32zM1165.83 285.20h1.32v7.30h-1.32zM1170.30 285.20h7.30v1.32h-7.30zM1170.30 286.70h1.32v1.32h-1.32zM1170.30 288.19h1.32v1.32h-1.32zM1170.30 289.69h1.32v1.32h-1.32zM1170.30 291.18h1.32v1.32h-1.32zM1170.30 285.20h1.32v7.30h-1.32z"/>
<path fill="#a9a9a9" d="M1098.60 299.80h13.28v1.32h-13.28zM1098.60 301.30h1.32v1.32h-1.32zM1104.58 301.30h1.32v1.32h-1.32zM1110.57 301.30h1.32v1.32h-1.32zM1098.60 302.79h1.32v1.32h-1.32zM1104.58 302.79h1.32v1.32h-1.32zM1110.57 302.79h1.32v1.32h-1.32zM1098.60 304.29h1.32v1.32h-1.32zM1104.58 304.29h1.32v1.32h-1.32zM1110.57 304.29h1.32v1.32h-1.32zM1098.60 305.78h1.32v1.32h-1.32zM1104.58 305.78h1.32v1.32h-1.32zM1110.57 305.78h1.32v1.32h-1.32zM1098.60 299.80h1.32v7.30h-1.32zM1104.58 299.80h1.32v7.30h-1.32zM1110.57 299.80h1.32v7.30h-1.32zM1115.17 299.80h8.80v1.32h-8.80zM1115.17 301.30h1.32v1.32h-1.32zM1122.65 301.30h1.32v1.32h-1.32zM1115.17 302.79h1.32v1.32h-1.32zM1122.65 302.79h1.32v1.32h-1.32zM1115.17 304.29h1.32v1.32h-1.32zM1122.65 304.29h1.32v1.32h-1.32zM1115.17 305.78h8.80v1.32h-8.80zM1115.17 299.80h1.32v7.30h-1.32zM1122.65 299.80h1.32v7.30h-1.32zM1134.74 296.81h1.32v1.32h-1.32zM1134.74 298.30h1.32v1.32h-1.32zM1127.26 299.80h8.80v1.32h-8.80zM1127.26 301.30h1.32v1.32h-1.32zM1134.74 301.30h1.32v1.32h-1.32zM1127.26 302.79h1.32v1.32h-1.32zM1134.74 302.79h1.32v1.32h-1.32zM1127.26 304.29h1.32v1.32h-1.32zM1134.74 304.29h1.32v1.32h-1.32zM1127.26 305.78h8.80v1.32h-8.80zM1127.26 299.80h1.32v7.30h-1.32zM1134.74 296.81h1.32v10.29h-1.32zM1139.34 299.80h1.32v1.32h-1.32zM1146.82 299.80h1.32v1.32h-1.32zM1139.34 301.30h1.32v1.32h-1.32zM1146.82 301.30h1.32v1.32h-1.32zM1139.34 302.79h1.32v1.32h-1.32zM1146.82 302.79h1.32v1.32h-1.32zM1139.34 304.29h1.32v1.32h-1.32zM1146.82 304.29h1.32v1.32h-1.32zM1139.34 305.78h8.80v1.32h-8.80zM1139.34 299.80h1.32v7.30h-1.32zM1146.82 299.80h1.32v7.30h-1.32zM1151.43 296.81h1.32v1.32h-1.32zM1151.43 298.30h1.32v1.32h-1.32zM1151.43 299.80h1.32v1.32h-1.32zM1151.43 301.30h1.32v1.32h-1.32zM1151.43 302.79h1.32v1.32h-1.32zM1151.43 304.29h1.32v1.32h-1.32zM1151.43 305.78h4.31v1.32h-4.31zM1151.43 296.81h1.32v10.29h-1.32zM1159.02 299.80h8.80v1.32h-8.80zM1159.02 301.30h1.32v1.32h-1.32zM1166.50 301.30h1.32v1.32h-1.32zM1159.02 302.79h8.80v1.32h-8.80zM1159.02 304.29h1.32v1.32h-1.32zM1159.02 305.78h8.80v1.32h-8.80zM1159.02 299.80h1.32v7.30h-1.32zM1166.50 299.80h1.32v4.31h-1.32zM1171.11 299.80h8.80v1.32h-8.80zM1171.11 301.30h1.32v1.32h-1.32zM1171.11 302.79h8.80v1.32h-8.80zM1178.59 304.29h1.32v1.32h-1.32zM1171.11 305.78h8.80v1.32h-8.80zM1171.11 299.80h1.32v4.31h-1.32zM1178.59 302.79h1.32v4.31h-1.32zM1183.19 295.31h4.31v1.32h-4.31zM1186.18 296.81h1.32v1.32h-1.32zM1186.18 298.30h1.32v1.32h-1.32zM1186.18 299.80h1.32v1.32h-1.32zM1186.18 301.30h1.32v1.32h-1.32zM1186.18 302.79h1.32v1.32h-1.32zM1186.18 304.29h1.32v1.32h-1.32zM1186.18 305.78h1.32v1.32h-1.32zM1183.19 307.28h4.31v1.32h-4.31zM1186.18 295.31h1.32v13.28h-1.32z"/>
<rect x="121.00" y="420.00" width="37.00" height="8.00" fill="#c8c8c8"/>
<rect x="121.00" y="483.00" width="37.00" height="8.50" fill="#c8c8c8"/>
<rect x="243.50" y="420.00" width="37.00" height="8.00" fill="#c8c8c8"/>
<rect x="243.50" y="483.00" width="37.00" height="8.50" fill="#c8c8c8"/>
<rect x="377.00" y="420.00" width="37.00" height="8.00" fill="#c8c8c8"/>
<rect x="377.00" y="483.00" width="37.00" height="8.50" fill="#c8c8c8"/>
<rect x="664.00" y="420.00" width="37.00" height="8.00" fill="#c8c8c8"/>
<rect x="664.00" y="483.00" width="37.00" height="8.50" fill="#c8c8c8"/>
<rect x="802.00" y="420.00" width="37.00" height="8.00" fill="#c8c8c8"/>
<rect x="802.00" y="483.00" width="37.00" height="8.50" fill="#c8c8c8"/>
<rect x="912.50" y="420.00" width="116.80" height="8.00" fill="#d6bfe6"/>
<rect x="948.40" y="483.00" width="37.20" height="8.50" fill="#c8c8c8"/>
<rect x="1105.00" y="483.00" width="37.50" height="8.50" fill="#c8c8c8"/>
<rect x="467.00" y="352.70" width="8.50" height="36.80" fill="#c8c8c8"/>
<rect x="82.00" y="320.80" width="240.00" height="99.80" fill="#878787"/>
<rect x="88.50" y="327.30" width="227.00" height="86.80" fill="#c4c4c4"/>
<rect x="94.50" y="386.30" width="62.70" height="23.10" fill="#b3b3b3"/>
<rect x="95.50" y="387.30" width="60.70" height="21.10" fill="#dadada"/>
<rect x="162.30" y="386.30" width="75.40" height="23.10" fill="#b3b3b3"/>
<rect x="163.30" y="387.30" width="73.40" height="21.10" fill="#dadada"/>
<path fill="#666666" d="M172.00 365.10h12.17v1.82h-12.17zM172.00 367.17h1.82v1.82h-1.82zM172.00 369.24h1.82v1.82h-1.82zM172.00 371.31h1.82v1.82h-1.82zM172.00 373.38h12.17v1.82h-12.17zM172.00 365.10h1.82v10.10h-1.82zM188.00 365.10h12.17v1.82h-12.17zM188.00 367.17h1.82v1.82h-1.82zM198.35 367.17h1.82v1.82h-1.82zM188.00 369.24h1.82v1.82h-1.82zM198.35 369.24h1.82v1.82h-1.82zM188.00 371.31h1.82v1.82h-1.82zM198.35 371.31h1.82v1.82h-1.82zM188.00 373.38h12.17v1.82h-12.17zM188.00 365.10h1.82v10.10h-1.82zM198.35 365.10h1.82v10.10h-1.82zM204.00 365.10h10.10v1.82h-10.10zM204.00 367.17h1.82v1.82h-1.82zM204.00 369.24h1.82v1.82h-1.82zM204.00 371.31h1.82v1.82h-1.82zM204.00 373.38h1.82v1.82h-1.82zM204.00 365.10h1.82v10.10h-1.82zM217.93 365.10h12.17v1.82h-12.17zM217.93 367.17h1.82v1.82h-1.82zM228.28 367.17h1.82v1.82h-1.82zM217.93 369.24h12.17v1.82h-12.17zM217.93 371.31h1.82v1.82h-1.82zM217.93 373.38h12.17v1.82h-12.17zM217.93 365.10h1.82v10.10h-1.82zM228.28 365.10h1.82v5.96h-1.82z"/>
<rect x="328.80" y="320.80" width="138.90" height="99.80" fill="#729c6b"/>
<rect x="335.10" y="327.10" width="126.30" height="87.20" fill="#b1e8a0"/>
<rect x="340.20" y="386.50" width="99.60" height="22.80" fill="#93c08a"/>
<rect x="341.20" y="387.50" width="97.60" height="20.80" fill="#cce6c4"/>
<path fill="#5a7b55" d="M342.07 360.36h1.91v1.91h-1.91zM342.07 362.53h1.91v1.91h-1.91zM339.90 364.70h10.60v1.91h-10.60zM342.07 366.87h1.91v1.91h-1.91zM342.07 369.04h1.91v1.91h-1.91zM342.07 371.22h1.91v1.91h-1.91zM342.07 373.39h8.43v1.91h-8.43zM342.07 360.36h1.91v14.94h-1.91zM353.38 364.70h12.77v1.91h-12.77zM353.38 366.87h1.91v1.91h-1.91zM364.24 366.87h1.91v1.91h-1.91zM353.38 369.04h12.77v1.91h-12.77zM353.38 371.22h1.91v1.91h-1.91zM353.38 373.39h12.77v1.91h-12.77zM353.38 364.70h1.91v10.60h-1.91zM364.24 364.70h1.91v6.26h-1.91zM369.03 364.70h1.91v1.91h-1.91zM379.89 364.70h1.91v1.91h-1.91zM369.03 366.87h1.91v1.91h-1.91zM379.89 366.87h1.91v1.91h-1.91zM371.20 369.04h8.43v1.91h-8.43zM369.03 371.22h1.91v1.91h-1.91zM379.89 371.22h1.91v1.91h-1.91zM369.03 373.39h1.91v1.91h-1.91zM379.89 373.39h1.91v1.91h-1.91zM369.03 364.70h1.91v4.08h-1.91zM369.03 371.22h1.91v4.08h-1.91zM379.89 364.70h1.91v4.08h-1.91zM379.89 371.22h1.91v4.08h-1.91zM386.85 360.36h1.91v1.91h-1.91zM386.85 362.53h1.91v1.91h-1.91zM384.68 364.70h10.60v1.91h-10.60zM386.85 366.87h1.91v1.91h-1.91zM386.85 369.04h1.91v1.91h-1.91zM386.85 371.22h1.91v1.91h-1.91zM386.85 373.39h8.43v1.91h-8.43zM386.85 360.36h1.91v14.94h-1.91zM398.15 364.70h1.91v1.91h-1.91zM409.01 364.70h1.91v1.91h-1.91zM398.15 366.87h1.91v1.91h-1.91zM409.01 366.87h1.91v1.91h-1.91zM398.15 369.04h1.91v1.91h-1.91zM409.01 369.04h1.91v1.91h-1.91zM398.15 371.22h1.91v1.91h-1.91zM409.01 371.22h1.91v1.91h-1.91zM398.15 373.39h12.77v1.91h-12.77zM398.15 364.70h1.91v10.60h-1.91zM409.01 364.70h1.91v10.60h-1.91zM413.80 364.70h10.60v1.91h-10.60zM413.80 366.87h1.91v1.91h-1.91zM413.80 369.04h1.91v1.91h-1.91zM413.80 371.22h1.91v1.91h-1.91zM413.80 373.39h1.91v1.91h-1.91zM413.80 364.70h1.91v10.60h-1.91zM427.28 364.70h12.77v1.91h-12.77zM427.28 366.87h1.91v1.91h-1.91zM438.14 366.87h1.91v1.91h-1.91zM427.28 369.04h12.77v1.91h-12.77zM427.28 371.22h1.91v1.91h-1.91zM427.28 373.39h12.77v1.91h-12.77zM427.28 364.70h1.91v10.60h-1.91zM438.14 364.70h1.91v6.26h-1.91zM442.93 364.70h12.77v1.91h-12.77zM442.93 366.87h1.91v1.91h-1.91zM442.93 369.04h12.77v1.91h-12.77zM453.79 371.22h1.91v1.91h-1.91zM442.93 373.39h12.77v1.91h-12.77zM442.93 364.70h1.91v6.26h-1.91zM453.79 369.04h1.91v6.26h-1.91z"/>
<rect x="474.90" y="320.80" width="132.80" height="99.80" fill="#4dae94"/>
<rect x="481.20" y="327.10" width="120.20" height="87.20" fill="#a4f0d4"/>
<rect x="485.60" y="386.50" width="99.65" height="23.60" fill="#70c4a8"/>
<rect x="486.60" y="387.50" width="97.65" height="21.60" fill="#bff3e1"/>
<path fill="#4a8a77" d="M514.67 361.47h1.73v1.73h-1.73zM514.67 363.43h1.73v1.73h-1.73zM512.70 365.40h9.60v1.73h-9.60zM514.67 367.37h1.73v1.73h-1.73zM514.67 369.33h1.73v1.73h-1.73zM514.67 371.30h1.73v1.73h-1.73zM514.67 373.27h7.63v1.73h-7.63zM514.67 361.47h1.73v13.53h-1.73zM526.86 365.40h11.57v1.73h-11.57zM526.86 367.37h1.73v1.73h-1.73zM536.69 367.37h1.73v1.73h-1.73zM526.86 369.33h11.57v1.73h-11.57zM526.86 371.30h1.73v1.73h-1.73zM526.86 373.27h11.57v1.73h-11.57zM526.86 365.40h1.73v9.60h-1.73zM536.69 365.40h1.73v5.67h-1.73zM542.98 365.40h1.73v1.73h-1.73zM552.81 365.40h1.73v1.73h-1.73zM542.98 367.37h1.73v1.73h-1.73zM552.81 367.37h1.73v1.73h-1.73zM544.94 369.33h7.63v1.73h-7.63zM542.98 371.30h1.73v1.73h-1.73zM552.81 371.30h1.73v1.73h-1.73zM542.98 373.27h1.73v1.73h-1.73zM552.81 373.27h1.73v1.73h-1.73zM542.98 365.40h1.73v3.70h-1.73zM542.98 371.30h1.73v3.70h-1.73zM552.81 365.40h1.73v3.70h-1.73zM552.81 371.30h1.73v3.70h-1.73zM561.07 361.47h1.73v1.73h-1.73zM561.07 363.43h1.73v1.73h-1.73zM559.10 365.40h9.60v1.73h-9.60zM561.07 367.37h1.73v1.73h-1.73zM561.07 369.33h1.73v1.73h-1.73zM561.07 371.30h1.73v1.73h-1.73zM561.07 373.27h7.63v1.73h-7.63zM561.07 361.47h1.73v13.53h-1.73z"/>
<rect x="614.50" y="320.80" width="133.80" height="99.80" fill="#e46262"/>
<rect x="620.80" y="327.10" width="121.20" height="87.20" fill="#eeb7b7"/>
<path fill="#dc5050" d="M635.10 365.20h11.69v1.75h-11.69zM635.10 367.19h1.75v1.75h-1.75zM635.10 369.18h11.69v1.75h-11.69zM645.04 371.16h1.75v1.75h-1.75zM635.10 373.15h11.69v1.75h-11.69zM635.10 365.20h1.75v5.72h-1.75zM645.04 369.18h1.75v5.72h-1.75zM651.20 361.22h1.75v1.75h-1.75zM651.20 363.21h1.75v1.75h-1.75zM651.20 365.20h11.69v1.75h-11.69zM651.20 367.19h1.75v1.75h-1.75zM661.14 367.19h1.75v1.75h-1.75zM651.20 369.18h1.75v1.75h-1.75zM661.14 369.18h1.75v1.75h-1.75zM651.20 371.16h1.75v1.75h-1.75zM661.14 371.16h1.75v1.75h-1.75zM651.20 373.15h1.75v1.75h-1.75zM661.14 373.15h1.75v1.75h-1.75zM651.20 361.22h1.75v13.68h-1.75zM661.14 365.20h1.75v9.70h-1.75zM667.30 365.20h11.69v1.75h-11.69zM677.24 367.19h1.75v1.75h-1.75zM667.30 369.18h11.69v1.75h-11.69zM667.30 371.16h1.75v1.75h-1.75zM677.24 371.16h1.75v1.75h-1.75zM667.30 373.15h11.69v1.75h-11.69zM667.30 369.18h1.75v5.72h-1.75zM677.24 365.20h1.75v9.70h-1.75zM683.41 365.20h11.69v1.75h-11.69zM683.41 367.19h1.75v1.75h-1.75zM693.35 367.19h1.75v1.75h-1.75zM683.41 369.18h1.75v1.75h-1.75zM693.35 369.18h1.75v1.75h-1.75zM683.41 371.16h1.75v1.75h-1.75zM693.35 371.16h1.75v1.75h-1.75zM683.41 373.15h11.69v1.75h-11.69zM683.41 375.14h1.75v1.75h-1.75zM683.41 377.13h1.75v1.75h-1.75zM683.41 365.20h1.75v13.68h-1.75zM693.35 365.20h1.75v9.70h-1.75zM699.51 365.20h11.69v1.75h-11.69zM699.51 367.19h1.75v1.75h-1.75zM709.45 367.19h1.75v1.75h-1.75zM699.51 369.18h11.69v1.75h-11.69zM699.51 371.16h1.75v1.75h-1.75zM699.51 373.15h11.69v1.75h-11.69zM699.51 365.20h1.75v9.70h-1.75zM709.45 365.20h1.75v5.72h-1.75zM715.61 365.20h11.69v1.75h-11.69zM715.61 367.19h1.75v1.75h-1.75zM715.61 369.18h11.69v1.75h-11.69zM725.55 371.16h1.75v1.75h-1.75zM715.61 373.15h11.69v1.75h-11.69zM715.61 365.20h1.75v5.72h-1.75zM725.55 369.18h1.75v5.72h-1.75z"/>
<rect x="755.20" y="320.80" width="133.40" height="99.80" fill="#5497bb"/>
<rect x="761.50" y="327.10" width="120.80" height="87.20" fill="#a5d3e7"/>
<path fill="#4f7c92" d="M777.00 365.30h17.47v1.73h-17.47zM777.00 367.27h1.73v1.73h-1.73zM784.87 367.27h1.73v1.73h-1.73zM792.74 367.27h1.73v1.73h-1.73zM777.00 369.23h1.73v1.73h-1.73zM784.87 369.23h1.73v1.73h-1.73zM792.74 369.23h1.73v1.73h-1.73zM777.00 371.20h1.73v1.73h-1.73zM784.87 371.20h1.73v1.73h-1.73zM792.74 371.20h1.73v1.73h-1.73zM777.00 373.17h1.73v1.73h-1.73zM784.87 373.17h1.73v1.73h-1.73zM792.74 373.17h1.73v1.73h-1.73zM777.00 365.30h1.73v9.60h-1.73zM784.87 365.30h1.73v9.60h-1.73zM792.74 365.30h1.73v9.60h-1.73zM798.97 365.30h11.57v1.73h-11.57zM798.97 367.27h1.73v1.73h-1.73zM808.80 367.27h1.73v1.73h-1.73zM798.97 369.23h1.73v1.73h-1.73zM808.80 369.23h1.73v1.73h-1.73zM798.97 371.20h1.73v1.73h-1.73zM808.80 371.20h1.73v1.73h-1.73zM798.97 373.17h11.57v1.73h-11.57zM798.97 365.30h1.73v9.60h-1.73zM808.80 365.30h1.73v9.60h-1.73zM824.87 361.37h1.73v1.73h-1.73zM824.87 363.33h1.73v1.73h-1.73zM815.03 365.30h11.57v1.73h-11.57zM815.03 367.27h1.73v1.73h-1.73zM824.87 367.27h1.73v1.73h-1.73zM815.03 369.23h1.73v1.73h-1.73zM824.87 369.23h1.73v1.73h-1.73zM815.03 371.20h1.73v1.73h-1.73zM824.87 371.20h1.73v1.73h-1.73zM815.03 373.17h11.57v1.73h-11.57zM815.03 365.30h1.73v9.60h-1.73zM824.87 361.37h1.73v13.53h-1.73zM831.10 365.30h11.57v1.73h-11.57zM831.10 367.27h1.73v1.73h-1.73zM840.94 367.27h1.73v1.73h-1.73zM831.10 369.23h11.57v1.73h-11.57zM831.10 371.20h1.73v1.73h-1.73zM831.10 373.17h11.57v1.73h-11.57zM831.10 365.30h1.73v9.60h-1.73zM840.94 365.30h1.73v5.67h-1.73zM847.17 361.37h1.73v1.73h-1.73zM847.17 363.33h1.73v1.73h-1.73zM847.17 365.30h1.73v1.73h-1.73zM847.17 367.27h1.73v1.73h-1.73zM847.17 369.23h1.73v1.73h-1.73zM847.17 371.20h1.73v1.73h-1.73zM847.17 373.17h5.67v1.73h-5.67zM847.17 361.37h1.73v13.53h-1.73zM857.33 365.30h11.57v1.73h-11.57zM857.33 367.27h1.73v1.73h-1.73zM857.33 369.23h11.57v1.73h-11.57zM867.17 371.20h1.73v1.73h-1.73zM857.33 373.17h11.57v1.73h-11.57zM857.33 365.30h1.73v5.67h-1.73zM867.17 369.23h1.73v5.67h-1.73z"/>
<rect x="895.20" y="320.80" width="151.50" height="99.60" fill="#a866d6"/>
<rect x="901.50" y="327.10" width="138.90" height="87.00" fill="#d0a6ec"/>
<path fill="#8b3cc2" d="M909.00 359.86h5.61v1.71h-5.61zM909.00 361.81h1.71v1.71h-1.71zM909.00 363.75h1.71v1.71h-1.71zM909.00 365.70h1.71v1.71h-1.71zM909.00 367.65h1.71v1.71h-1.71zM909.00 369.59h1.71v1.71h-1.71zM909.00 371.54h1.71v1.71h-1.71zM909.00 373.49h1.71v1.71h-1.71zM909.00 375.43h5.61v1.71h-5.61zM909.00 359.86h1.71v17.29h-1.71zM919.23 365.70h11.45v1.71h-11.45zM919.23 367.65h1.71v1.71h-1.71zM919.23 369.59h11.45v1.71h-11.45zM928.97 371.54h1.71v1.71h-1.71zM919.23 373.49h11.45v1.71h-11.45zM919.23 365.70h1.71v5.61h-1.71zM928.97 369.59h1.71v5.61h-1.71zM935.30 361.81h1.71v1.71h-1.71zM935.30 363.75h1.71v1.71h-1.71zM935.30 365.70h11.45v1.71h-11.45zM935.30 367.65h1.71v1.71h-1.71zM945.04 367.65h1.71v1.71h-1.71zM935.30 369.59h1.71v1.71h-1.71zM945.04 369.59h1.71v1.71h-1.71zM935.30 371.54h1.71v1.71h-1.71zM945.04 371.54h1.71v1.71h-1.71zM935.30 373.49h1.71v1.71h-1.71zM945.04 373.49h1.71v1.71h-1.71zM935.30 361.81h1.71v13.39h-1.71zM945.04 365.70h1.71v9.50h-1.71zM951.38 365.70h11.45v1.71h-11.45zM961.11 367.65h1.71v1.71h-1.71zM951.38 369.59h11.45v1.71h-11.45zM951.38 371.54h1.71v1.71h-1.71zM961.11 371.54h1.71v1.71h-1.71zM951.38 373.49h11.45v1.71h-11.45zM951.38 369.59h1.71v5.61h-1.71zM961.11 365.70h1.71v9.50h-1.71zM977.18 361.81h1.71v1.71h-1.71zM977.18 363.75h1.71v1.71h-1.71zM967.45 365.70h11.45v1.71h-11.45zM967.45 367.65h1.71v1.71h-1.71zM977.18 367.65h1.71v1.71h-1.71zM967.45 369.59h1.71v1.71h-1.71zM977.18 369.59h1.71v1.71h-1.71zM967.45 371.54h1.71v1.71h-1.71zM977.18 371.54h1.71v1.71h-1.71zM967.45 373.49h11.45v1.71h-11.45zM967.45 365.70h1.71v9.50h-1.71zM977.18 361.81h1.71v13.39h-1.71zM983.52 365.70h11.45v1.71h-11.45zM983.52 367.65h1.71v1.71h-1.71zM993.26 367.65h1.71v1.71h-1.71zM983.52 369.59h11.45v1.71h-11.45zM983.52 371.54h1.71v1.71h-1.71zM983.52 373.49h11.45v1.71h-11.45zM983.52 365.70h1.71v9.50h-1.71zM993.26 365.70h1.71v5.61h-1.71zM999.60 365.70h9.50v1.71h-9.50zM999.60 367.65h1.71v1.71h-1.71zM999.60 369.59h1.71v1.71h-1.71zM999.60 371.54h1.71v1.71h-1.71zM999.60 373.49h1.71v1.71h-1.71zM999.60 365.70h1.71v9.50h-1.71zM1013.72 365.70h11.45v1.71h-11.45zM1013.72 367.65h1.71v1.71h-1.71zM1013.72 369.59h11.45v1.71h-11.45zM1023.45 371.54h1.71v1.71h-1.71zM1013.72 373.49h11.45v1.71h-11.45zM1013.72 365.70h1.71v5.61h-1.71zM1023.45 369.59h1.71v5.61h-1.71zM1029.79 359.86h5.61v1.71h-5.61zM1033.69 361.81h1.71v1.71h-1.71zM1033.69 363.75h1.71v1.71h-1.71zM1033.69 365.70h1.71v1.71h-1.71zM1033.69 367.65h1.71v1.71h-1.71zM1033.69 369.59h1.71v1.71h-1.71zM1033.69 371.54h1.71v1.71h-1.71zM1033.69 373.49h1.71v1.71h-1.71zM1029.79 375.43h5.61v1.71h-5.61zM1033.69 359.86h1.71v17.29h-1.71z"/>
<rect x="1053.00" y="320.80" width="141.00" height="163.00" fill="#d3ab4f"/>
<rect x="1059.75" y="327.55" width="127.50" height="149.50" fill="#e8d594"/>
<rect x="1064.20" y="391.00" width="55.50" height="25.40" fill="#dbb85e"/>
<rect x="1065.20" y="392.00" width="53.50" height="23.40" fill="#e8dcab"/>
<rect x="1064.20" y="420.20" width="55.50" height="25.00" fill="#dbb85e"/>
<rect x="1065.20" y="421.20" width="53.50" height="23.00" fill="#e8dcab"/>
<rect x="1124.70" y="420.20" width="59.10" height="25.00" fill="#dbb85e"/>
<rect x="1125.70" y="421.20" width="57.10" height="23.00" fill="#e8dcab"/>
<rect x="1064.20" y="448.70" width="119.60" height="25.00" fill="#dbb85e"/>
<rect x="1065.20" y="449.70" width="117.60" height="23.00" fill="#e8dcab"/>
<path fill="#8b7a40" d="M1089.80 365.20h11.81v1.77h-11.81zM1099.84 367.21h1.77v1.77h-1.77zM1089.80 369.22h11.81v1.77h-11.81zM1089.80 371.22h1.77v1.77h-1.77zM1099.84 371.22h1.77v1.77h-1.77zM1089.80 373.23h11.81v1.77h-11.81zM1089.80 369.22h1.77v5.78h-1.77zM1099.84 365.20h1.77v9.80h-1.77zM1105.91 365.20h1.77v1.77h-1.77zM1115.95 365.20h1.77v1.77h-1.77zM1105.91 367.21h1.77v1.77h-1.77zM1115.95 367.21h1.77v1.77h-1.77zM1105.91 369.22h1.77v1.77h-1.77zM1115.95 369.22h1.77v1.77h-1.77zM1105.91 371.22h1.77v1.77h-1.77zM1115.95 371.22h1.77v1.77h-1.77zM1105.91 373.23h11.81v1.77h-11.81zM1105.91 365.20h1.77v9.80h-1.77zM1115.95 365.20h1.77v9.80h-1.77zM1132.06 361.18h1.77v1.77h-1.77zM1132.06 363.19h1.77v1.77h-1.77zM1122.02 365.20h11.81v1.77h-11.81zM1122.02 367.21h1.77v1.77h-1.77zM1132.06 367.21h1.77v1.77h-1.77zM1122.02 369.22h1.77v1.77h-1.77zM1132.06 369.22h1.77v1.77h-1.77zM1122.02 371.22h1.77v1.77h-1.77zM1132.06 371.22h1.77v1.77h-1.77zM1122.02 373.23h11.81v1.77h-11.81zM1122.02 365.20h1.77v9.80h-1.77zM1132.06 361.18h1.77v13.82h-1.77zM1138.12 361.18h1.77v1.77h-1.77zM1138.12 365.20h1.77v1.77h-1.77zM1138.12 367.21h1.77v1.77h-1.77zM1138.12 369.22h1.77v1.77h-1.77zM1138.12 371.22h1.77v1.77h-1.77zM1138.12 373.23h1.77v1.77h-1.77zM1138.12 365.20h1.77v9.80h-1.77zM1144.19 365.20h11.81v1.77h-11.81zM1144.19 367.21h1.77v1.77h-1.77zM1154.23 367.21h1.77v1.77h-1.77zM1144.19 369.22h1.77v1.77h-1.77zM1154.23 369.22h1.77v1.77h-1.77zM1144.19 371.22h1.77v1.77h-1.77zM1154.23 371.22h1.77v1.77h-1.77zM1144.19 373.23h11.81v1.77h-11.81zM1144.19 365.20h1.77v9.80h-1.77zM1154.23 365.20h1.77v9.80h-1.77z"/>
<rect x="82.00" y="427.60" width="112.70" height="56.30" fill="#aaaaf8"/>
<rect x="83.20" y="428.80" width="110.30" height="53.90" fill="#d4d4f5"/>
<rect x="201.30" y="427.30" width="845.40" height="56.60" fill="#a866d6"/>
<rect x="207.30" y="433.30" width="833.40" height="44.60" fill="#cfa4ec"/>
<rect x="210.30" y="448.80" width="66.80" height="26.60" fill="#b67cdc"/>
<rect x="211.40" y="449.90" width="64.60" height="24.40" fill="#dcbdee"/>
<path fill="#7f33bb" d="M580.70 451.20h9.80v1.77h-9.80zM580.70 453.21h1.77v1.77h-1.77zM580.70 455.22h1.77v1.77h-1.77zM580.70 457.22h1.77v1.77h-1.77zM580.70 459.23h1.77v1.77h-1.77zM580.70 451.20h1.77v9.80h-1.77zM594.84 447.18h1.77v1.77h-1.77zM594.84 449.19h1.77v1.77h-1.77zM594.84 451.20h1.77v1.77h-1.77zM594.84 453.21h1.77v1.77h-1.77zM594.84 455.22h1.77v1.77h-1.77zM594.84 457.22h1.77v1.77h-1.77zM594.84 459.23h5.78v1.77h-5.78zM594.84 447.18h1.77v13.82h-1.77zM604.97 451.20h11.81v1.77h-11.81zM604.97 453.21h1.77v1.77h-1.77zM615.01 453.21h1.77v1.77h-1.77zM604.97 455.22h1.77v1.77h-1.77zM615.01 455.22h1.77v1.77h-1.77zM604.97 457.22h1.77v1.77h-1.77zM615.01 457.22h1.77v1.77h-1.77zM604.97 459.23h11.81v1.77h-11.81zM615.01 461.24h1.77v1.77h-1.77zM604.97 463.25h11.81v1.77h-11.81zM604.97 451.20h1.77v9.80h-1.77zM615.01 451.20h1.77v13.82h-1.77zM621.12 447.18h1.77v1.77h-1.77zM621.12 449.19h1.77v1.77h-1.77zM621.12 451.20h1.77v1.77h-1.77zM621.12 453.21h1.77v1.77h-1.77zM621.12 455.22h1.77v1.77h-1.77zM621.12 457.22h1.77v1.77h-1.77zM621.12 459.23h5.78v1.77h-5.78zM621.12 447.18h1.77v13.82h-1.77z"/>
<rect x="82.00" y="491.00" width="806.80" height="132.80" fill="#9dd0f2"/>
<rect x="83.20" y="492.20" width="804.40" height="130.40" fill="#bdeaf8"/>
<rect x="895.20" y="491.00" width="151.50" height="132.80" fill="#e35a8b"/>
<rect x="901.80" y="497.60" width="138.30" height="119.60" fill="#f985bd"/>
<path fill="#c4416f" d="M925.10 553.70h9.00v1.62h-9.00zM925.10 555.54h1.62v1.62h-1.62zM925.10 557.39h1.62v1.62h-1.62zM925.10 559.23h1.62v1.62h-1.62zM925.10 561.08h1.62v1.62h-1.62zM925.10 553.70h1.62v9.00h-1.62zM936.51 553.70h10.84v1.62h-10.84zM945.73 555.54h1.62v1.62h-1.62zM936.51 557.39h10.84v1.62h-10.84zM936.51 559.23h1.62v1.62h-1.62zM945.73 559.23h1.62v1.62h-1.62zM936.51 561.08h10.84v1.62h-10.84zM936.51 557.39h1.62v5.31h-1.62zM945.73 553.70h1.62v9.00h-1.62zM949.76 553.70h1.62v1.62h-1.62zM958.98 553.70h1.62v1.62h-1.62zM949.76 555.54h1.62v1.62h-1.62zM958.98 555.54h1.62v1.62h-1.62zM949.76 557.39h1.62v1.62h-1.62zM958.98 557.39h1.62v1.62h-1.62zM949.76 559.23h1.62v1.62h-1.62zM958.98 559.23h1.62v1.62h-1.62zM949.76 561.08h10.84v1.62h-10.84zM958.98 562.92h1.62v1.62h-1.62zM949.76 564.77h10.84v1.62h-10.84zM949.76 553.70h1.62v9.00h-1.62zM958.98 553.70h1.62v12.69h-1.62zM963.01 553.70h16.38v1.62h-16.38zM963.01 555.54h1.62v1.62h-1.62zM970.39 555.54h1.62v1.62h-1.62zM977.77 555.54h1.62v1.62h-1.62zM963.01 557.39h1.62v1.62h-1.62zM970.39 557.39h1.62v1.62h-1.62zM977.77 557.39h1.62v1.62h-1.62zM963.01 559.23h1.62v1.62h-1.62zM970.39 559.23h1.62v1.62h-1.62zM977.77 559.23h1.62v1.62h-1.62zM963.01 561.08h1.62v1.62h-1.62zM970.39 561.08h1.62v1.62h-1.62zM977.77 561.08h1.62v1.62h-1.62zM963.01 553.70h1.62v9.00h-1.62zM970.39 553.70h1.62v9.00h-1.62zM977.77 553.70h1.62v9.00h-1.62zM981.80 553.70h10.84v1.62h-10.84zM991.02 555.54h1.62v1.62h-1.62zM981.80 557.39h10.84v1.62h-10.84zM981.80 559.23h1.62v1.62h-1.62zM991.02 559.23h1.62v1.62h-1.62zM981.80 561.08h10.84v1.62h-10.84zM981.80 557.39h1.62v5.31h-1.62zM991.02 553.70h1.62v9.00h-1.62zM996.89 550.01h1.62v1.62h-1.62zM996.89 551.86h1.62v1.62h-1.62zM995.05 553.70h9.00v1.62h-9.00zM996.89 555.54h1.62v1.62h-1.62zM996.89 557.39h1.62v1.62h-1.62zM996.89 559.23h1.62v1.62h-1.62zM996.89 561.08h7.16v1.62h-7.16zM996.89 550.01h1.62v12.69h-1.62zM1006.46 550.01h1.62v1.62h-1.62zM1006.46 551.86h1.62v1.62h-1.62zM1006.46 553.70h10.84v1.62h-10.84zM1006.46 555.54h1.62v1.62h-1.62zM1015.68 555.54h1.62v1.62h-1.62zM1006.46 557.39h1.62v1.62h-1.62zM1015.68 557.39h1.62v1.62h-1.62zM1006.46 559.23h1.62v1.62h-1.62zM1015.68 559.23h1.62v1.62h-1.62zM1006.46 561.08h1.62v1.62h-1.62zM1015.68 561.08h1.62v1.62h-1.62zM1006.46 550.01h1.62v12.69h-1.62zM1015.68 553.70h1.62v9.00h-1.62z"/>
<rect x="1053.00" y="491.00" width="141.00" height="132.80" fill="#efdf68"/>
<rect x="1054.20" y="492.20" width="138.60" height="130.40" fill="#fffcb8"/>
<path fill="#686868" d="M572.40 658.25h10.85v1.35h-10.85zM572.40 659.83h1.35v1.35h-1.35zM581.90 659.83h1.35v1.35h-1.35zM572.40 661.42h1.35v1.35h-1.35zM572.40 663.00h1.35v1.35h-1.35zM572.40 664.59h1.35v1.35h-1.35zM572.40 666.17h1.35v1.35h-1.35zM581.90 666.17h1.35v1.35h-1.35zM572.40 667.75h10.85v1.35h-10.85zM572.40 658.25h1.35v10.85h-1.35zM581.90 658.25h1.35v2.93h-1.35zM581.90 666.17h1.35v2.93h-1.35zM585.87 661.42h1.35v1.35h-1.35zM593.79 661.42h1.35v1.35h-1.35zM585.87 663.00h1.35v1.35h-1.35zM593.79 663.00h1.35v1.35h-1.35zM585.87 664.59h1.35v1.35h-1.35zM593.79 664.59h1.35v1.35h-1.35zM585.87 666.17h1.35v1.35h-1.35zM593.79 666.17h1.35v1.35h-1.35zM585.87 667.75h9.27v1.35h-9.27zM585.87 661.42h1.35v7.68h-1.35zM593.79 661.42h1.35v7.68h-1.35zM597.76 661.42h7.68v1.35h-7.68zM597.76 663.00h1.35v1.35h-1.35zM597.76 664.59h1.35v1.35h-1.35zM597.76 666.17h1.35v1.35h-1.35zM597.76 667.75h1.35v1.35h-1.35zM597.76 661.42h1.35v7.68h-1.35zM608.06 661.42h7.68v1.35h-7.68zM608.06 663.00h1.35v1.35h-1.35zM608.06 664.59h1.35v1.35h-1.35zM608.06 666.17h1.35v1.35h-1.35zM608.06 667.75h1.35v1.35h-1.35zM608.06 661.42h1.35v7.68h-1.35zM618.37 661.42h9.27v1.35h-9.27zM618.37 663.00h1.35v1.35h-1.35zM626.29 663.00h1.35v1.35h-1.35zM618.37 664.59h9.27v1.35h-9.27zM618.37 666.17h1.35v1.35h-1.35zM618.37 667.75h9.27v1.35h-9.27zM618.37 661.42h1.35v7.68h-1.35zM626.29 661.42h1.35v4.51h-1.35zM630.25 661.42h9.27v1.35h-9.27zM630.25 663.00h1.35v1.35h-1.35zM638.17 663.00h1.35v1.35h-1.35zM630.25 664.59h1.35v1.35h-1.35zM638.17 664.59h1.35v1.35h-1.35zM630.25 666.17h1.35v1.35h-1.35zM638.17 666.17h1.35v1.35h-1.35zM630.25 667.75h1.35v1.35h-1.35zM638.17 667.75h1.35v1.35h-1.35zM630.25 661.42h1.35v7.68h-1.35zM638.17 661.42h1.35v7.68h-1.35zM643.73 658.25h1.35v1.35h-1.35zM643.73 659.83h1.35v1.35h-1.35zM642.14 661.42h7.68v1.35h-7.68zM643.73 663.00h1.35v1.35h-1.35zM643.73 664.59h1.35v1.35h-1.35zM643.73 666.17h1.35v1.35h-1.35zM643.73 667.75h6.10v1.35h-6.10zM643.73 658.25h1.35v10.85h-1.35zM652.45 658.25h1.35v1.35h-1.35zM652.45 659.83h1.35v1.35h-1.35zM652.45 661.42h1.35v1.35h-1.35zM652.45 663.00h1.35v1.35h-1.35zM652.45 664.59h1.35v1.35h-1.35zM652.45 666.17h1.35v1.35h-1.35zM652.45 667.75h4.51v1.35h-4.51zM652.45 658.25h1.35v10.85h-1.35zM659.58 661.42h1.35v1.35h-1.35zM667.50 661.42h1.35v1.35h-1.35zM659.58 663.00h1.35v1.35h-1.35zM667.50 663.00h1.35v1.35h-1.35zM659.58 664.59h1.35v1.35h-1.35zM667.50 664.59h1.35v1.35h-1.35zM659.58 666.17h1.35v1.35h-1.35zM667.50 666.17h1.35v1.35h-1.35zM659.58 667.75h9.27v1.35h-9.27zM667.50 669.34h1.35v1.35h-1.35zM659.58 670.92h9.27v1.35h-9.27zM659.58 661.42h1.35v7.68h-1.35zM667.50 661.42h1.35v10.85h-1.35zM676.62 661.42h9.27v1.35h-9.27zM676.62 663.00h1.35v1.35h-1.35zM676.62 664.59h9.27v1.35h-9.27zM684.54 666.17h1.35v1.35h-1.35zM676.62 667.75h9.27v1.35h-9.27zM676.62 661.42h1.35v4.51h-1.35zM684.54 664.59h1.35v4.51h-1.35zM688.51 661.42h1.35v1.35h-1.35zM696.43 661.42h1.35v1.35h-1.35zM688.51 663.00h1.35v1.35h-1.35zM696.43 663.00h1.35v1.35h-1.35zM688.51 664.59h1.35v1.35h-1.35zM696.43 664.59h1.35v1.35h-1.35zM688.51 666.17h1.35v1.35h-1.35zM696.43 666.17h1.35v1.35h-1.35zM688.51 667.75h9.27v1.35h-9.27zM688.51 661.42h1.35v7.68h-1.35zM696.43 661.42h1.35v7.68h-1.35zM700.40 661.42h9.27v1.35h-9.27zM700.40 663.00h1.35v1.35h-1.35zM708.32 663.00h1.35v1.35h-1.35zM700.40 664.59h1.35v1.35h-1.35zM708.32 664.59h1.35v1.35h-1.35zM700.40 666.17h1.35v1.35h-1.35zM708.32 666.17h1.35v1.35h-1.35zM700.40 667.75h9.27v1.35h-9.27zM700.40 669.34h1.35v1.35h-1.35zM700.40 670.92h1.35v1.35h-1.35zM700.40 661.42h1.35v10.85h-1.35zM708.32 661.42h1.35v7.68h-1.35zM712.29 661.42h9.27v1.35h-9.27zM712.29 663.00h1.35v1.35h-1.35zM720.21 663.00h1.35v1.35h-1.35zM712.29 664.59h1.35v1.35h-1.35zM720.21 664.59h1.35v1.35h-1.35zM712.29 666.17h1.35v1.35h-1.35zM720.21 666.17h1.35v1.35h-1.35zM712.29 667.75h9.27v1.35h-9.27zM712.29 669.34h1.35v1.35h-1.35zM712.29 670.92h1.35v1.35h-1.35zM712.29 661.42h1.35v10.85h-1.35zM720.21 661.42h1.35v7.68h-1.35zM724.17 661.42h9.27v1.35h-9.27zM724.17 663.00h1.35v1.35h-1.35zM732.09 663.00h1.35v1.35h-1.35zM724.17 664.59h1.35v1.35h-1.35zM732.09 664.59h1.35v1.35h-1.35zM724.17 666.17h1.35v1.35h-1.35zM732.09 666.17h1.35v1.35h-1.35zM724.17 667.75h9.27v1.35h-9.27zM724.17 661.42h1.35v7.68h-1.35zM732.09 661.42h1.35v7.68h-1.35zM736.06 661.42h7.68v1.35h-7.68zM736.06 663.00h1.35v1.35h-1.35zM736.06 664.59h1.35v1.35h-1.35zM736.06 666.17h1.35v1.35h-1.35zM736.06 667.75h1.35v1.35h-1.35zM736.06 661.42h1.35v7.68h-1.35zM747.95 658.25h1.35v1.35h-1.35zM747.95 659.83h1.35v1.35h-1.35zM746.37 661.42h7.68v1.35h-7.68zM747.95 663.00h1.35v1.35h-1.35zM747.95 664.59h1.35v1.35h-1.35zM747.95 666.17h1.35v1.35h-1.35zM747.95 667.75h6.10v1.35h-6.10zM747.95 658.25h1.35v10.85h-1.35zM756.67 661.42h9.27v1.35h-9.27zM756.67 663.00h1.35v1.35h-1.35zM764.59 663.00h1.35v1.35h-1.35zM756.67 664.59h9.27v1.35h-9.27zM756.67 666.17h1.35v1.35h-1.35zM756.67 667.75h9.27v1.35h-9.27zM756.67 661.42h1.35v7.68h-1.35zM764.59 661.42h1.35v4.51h-1.35zM776.48 658.25h1.35v1.35h-1.35zM776.48 659.83h1.35v1.35h-1.35zM768.56 661.42h9.27v1.35h-9.27zM768.56 663.00h1.35v1.35h-1.35zM776.48 663.00h1.35v1.35h-1.35zM768.56 664.59h1.35v1.35h-1.35zM776.48 664.59h1.35v1.35h-1.35zM768.56 666.17h1.35v1.35h-1.35zM776.48 666.17h1.35v1.35h-1.35zM768.56 667.75h9.27v1.35h-9.27zM768.56 661.42h1.35v7.68h-1.35zM776.48 658.25h1.35v10.85h-1.35zM785.60 661.42h9.27v1.35h-9.27zM785.60 663.00h1.35v1.35h-1.35zM793.52 663.00h1.35v1.35h-1.35zM785.60 664.59h1.35v1.35h-1.35zM793.52 664.59h1.35v1.35h-1.35zM785.60 666.17h1.35v1.35h-1.35zM793.52 666.17h1.35v1.35h-1.35zM785.60 667.75h9.27v1.35h-9.27zM785.60 669.34h1.35v1.35h-1.35zM785.60 670.92h1.35v1.35h-1.35zM785.60 661.42h1.35v10.85h-1.35zM793.52 661.42h1.35v7.68h-1.35zM797.49 658.25h1.35v1.35h-1.35zM797.49 659.83h1.35v1.35h-1.35zM797.49 661.42h1.35v1.35h-1.35zM797.49 663.00h1.35v1.35h-1.35zM797.49 664.59h1.35v1.35h-1.35zM797.49 666.17h1.35v1.35h-1.35zM797.49 667.75h4.51v1.35h-4.51zM797.49 658.25h1.35v10.85h-1.35zM804.62 661.42h9.27v1.35h-9.27zM812.54 663.00h1.35v1.35h-1.35zM804.62 664.59h9.27v1.35h-9.27zM804.62 666.17h1.35v1.35h-1.35zM812.54 666.17h1.35v1.35h-1.35zM804.62 667.75h9.27v1.35h-9.27zM804.62 664.59h1.35v4.51h-1.35zM812.54 661.42h1.35v7.68h-1.35zM818.10 658.25h1.35v1.35h-1.35zM818.10 659.83h1.35v1.35h-1.35zM816.51 661.42h7.68v1.35h-7.68zM818.10 663.00h1.35v1.35h-1.35zM818.10 664.59h1.35v1.35h-1.35zM818.10 666.17h1.35v1.35h-1.35zM818.10 667.75h6.10v1.35h-6.10zM818.10 658.25h1.35v10.85h-1.35zM826.82 658.25h6.10v1.35h-6.10zM826.82 659.83h1.35v1.35h-1.35zM826.82 661.42h4.51v1.35h-4.51zM826.82 663.00h1.35v1.35h-1.35zM826.82 664.59h1.35v1.35h-1.35zM826.82 666.17h1.35v1.35h-1.35zM826.82 667.75h1.35v1.35h-1.35zM826.82 658.25h1.35v10.85h-1.35zM835.54 661.42h9.27v1.35h-9.27zM835.54 663.00h1.35v1.35h-1.35zM843.46 663.00h1.35v1.35h-1.35zM835.54 664.59h1.35v1.35h-1.35zM843.46 664.59h1.35v1.35h-1.35zM835.54 666.17h1.35v1.35h-1.35zM843.46 666.17h1.35v1.35h-1.35zM835.54 667.75h9.27v1.35h-9.27zM835.54 661.42h1.35v7.68h-1.35zM843.46 661.42h1.35v7.68h-1.35zM847.42 661.42h7.68v1.35h-7.68zM847.42 663.00h1.35v1.35h-1.35zM847.42 664.59h1.35v1.35h-1.35zM847.42 666.17h1.35v1.35h-1.35zM847.42 667.75h1.35v1.35h-1.35zM847.42 661.42h1.35v7.68h-1.35zM857.73 661.42h14.02v1.35h-14.02zM857.73 663.00h1.35v1.35h-1.35zM864.06 663.00h1.35v1.35h-1.35zM870.40 663.00h1.35v1.35h-1.35zM857.73 664.59h1.35v1.35h-1.35zM864.06 664.59h1.35v1.35h-1.35zM870.40 664.59h1.35v1.35h-1.35zM857.73 666.17h1.35v1.35h-1.35zM864.06 666.17h1.35v1.35h-1.35zM870.40 666.17h1.35v1.35h-1.35zM857.73 667.75h1.35v1.35h-1.35zM864.06 667.75h1.35v1.35h-1.35zM870.40 667.75h1.35v1.35h-1.35zM857.73 661.42h1.35v7.68h-1.35zM864.06 661.42h1.35v7.68h-1.35zM870.40 661.42h1.35v7.68h-1.35zM874.37 661.42h9.27v1.35h-9.27zM874.37 663.00h1.35v1.35h-1.35zM874.37 664.59h9.27v1.35h-9.27zM882.29 666.17h1.35v1.35h-1.35zM874.37 667.75h9.27v1.35h-9.27zM874.37 661.42h1.35v4.51h-1.35zM882.29 664.59h1.35v4.51h-1.35zM886.25 661.42h1.35v1.35h-1.35zM886.25 667.75h1.35v1.35h-1.35z"/>
<text x="414.00" y="216.10" font-family="Liberation Mono" font-size="21" font-weight="normal" fill="#8fbf8a" letter-spacing="2.13" text-anchor="start">build your engine/game here!</text>
<text x="125.80" y="402.20" font-family="Liberation Mono" font-size="12.1" font-weight="normal" fill="#8c8c8c" letter-spacing="0" text-anchor="middle">camera</text>
<text x="200.00" y="402.20" font-family="Liberation Mono" font-size="12.1" font-weight="normal" fill="#8c8c8c" letter-spacing="0" text-anchor="middle">gestures</text>
<text x="390.00" y="401.80" font-family="Liberation Mono" font-size="12.1" font-weight="normal" fill="#89ad83" letter-spacing="0" text-anchor="middle">stb_image</text>
<text x="535.40" y="401.80" font-family="Liberation Mono" font-size="12.1" font-weight="normal" fill="#74a595" letter-spacing="0" text-anchor="middle">stb_truetype</text>
<text x="1092.00" y="408.50" font-family="Liberation Mono" font-size="12.1" font-weight="normal" fill="#c0aa70" letter-spacing="0" text-anchor="middle">dr_flac</text>
<text x="1092.00" y="437.00" font-family="Liberation Mono" font-size="12.1" font-weight="normal" fill="#c0aa70" letter-spacing="0" text-anchor="middle">jar_xm</text>
<text x="1154.20" y="437.00" font-family="Liberation Mono" font-size="12.1" font-weight="normal" fill="#c0aa70" letter-spacing="0" text-anchor="middle">jar_mod</text>
<text x="1124.00" y="465.80" font-family="Liberation Mono" font-size="12.1" font-weight="normal" fill="#c0aa70" letter-spacing="0" text-anchor="middle">stb_vorbis</text>
<path fill="#7b7bdc" d="M98.64 450.75h4.10v1.39h-4.10zM97.25 452.21h1.32v1.39h-1.32zM102.81 452.21h1.32v1.39h-1.32zM97.25 453.67h1.32v1.39h-1.32zM97.25 455.13h1.32v1.39h-1.32zM101.42 455.13h2.71v1.39h-2.71zM97.25 456.59h1.32v1.39h-1.32zM102.81 456.59h1.32v1.39h-1.32zM97.25 458.05h1.32v1.39h-1.32zM102.81 458.05h1.32v1.39h-1.32zM98.64 459.51h4.10v1.39h-4.10zM97.25 452.21h1.32v7.23h-1.32zM102.81 455.13h1.32v4.31h-1.32zM106.97 450.75h1.32v1.39h-1.32zM106.97 452.21h1.32v1.39h-1.32zM106.97 453.67h1.32v1.39h-1.32zM106.97 455.13h1.32v1.39h-1.32zM106.97 456.59h1.32v1.39h-1.32zM106.97 458.05h1.32v1.39h-1.32zM106.97 459.51h6.87v1.39h-6.87zM106.97 450.75h1.32v10.15h-1.32zM116.69 450.75h6.87v1.39h-6.87zM116.69 452.21h1.32v1.39h-1.32zM116.69 453.67h1.32v1.39h-1.32zM116.69 455.13h5.49v1.39h-5.49zM116.69 456.59h1.32v1.39h-1.32zM116.69 458.05h1.32v1.39h-1.32zM116.69 459.51h1.32v1.39h-1.32zM116.69 450.75h1.32v10.15h-1.32zM126.42 450.75h1.32v1.39h-1.32zM131.97 450.75h1.32v1.39h-1.32zM126.42 452.21h1.32v1.39h-1.32zM131.97 452.21h1.32v1.39h-1.32zM126.42 453.67h1.32v1.39h-1.32zM131.97 453.67h1.32v1.39h-1.32zM126.42 455.13h1.32v1.39h-1.32zM129.19 455.13h1.32v1.39h-1.32zM131.97 455.13h1.32v1.39h-1.32zM126.42 456.59h1.32v1.39h-1.32zM129.19 456.59h1.32v1.39h-1.32zM131.97 456.59h1.32v1.39h-1.32zM126.42 458.05h1.32v1.39h-1.32zM129.19 458.05h1.32v1.39h-1.32zM131.97 458.05h1.32v1.39h-1.32zM127.80 459.51h1.32v1.39h-1.32zM130.58 459.51h1.32v1.39h-1.32zM126.42 450.75h1.32v8.69h-1.32zM129.19 455.13h1.32v4.31h-1.32zM131.97 450.75h1.32v8.69h-1.32zM136.14 450.75h5.49v1.39h-5.49zM141.69 452.21h1.32v1.39h-1.32zM141.69 453.67h1.32v1.39h-1.32zM137.53 455.13h4.10v1.39h-4.10zM141.69 456.59h1.32v1.39h-1.32zM141.69 458.05h1.32v1.39h-1.32zM136.14 459.51h5.49v1.39h-5.49zM141.69 452.21h1.32v2.85h-1.32zM141.69 456.59h1.32v2.85h-1.32zM151.41 450.75h1.32v1.39h-1.32zM150.03 452.21h1.32v1.39h-1.32zM150.03 453.67h1.32v1.39h-1.32zM148.64 455.13h1.32v1.39h-1.32zM147.25 456.59h1.32v1.39h-1.32zM147.25 458.05h1.32v1.39h-1.32zM145.86 459.51h1.32v1.39h-1.32zM147.25 456.59h1.32v2.85h-1.32zM150.03 452.21h1.32v2.85h-1.32zM155.58 450.75h6.87v1.39h-6.87zM155.58 452.21h1.32v1.39h-1.32zM155.58 453.67h1.32v1.39h-1.32zM155.58 455.13h5.49v1.39h-5.49zM155.58 456.59h1.32v1.39h-1.32zM155.58 458.05h1.32v1.39h-1.32zM155.58 459.51h6.87v1.39h-6.87zM155.58 450.75h1.32v10.15h-1.32zM166.69 450.75h4.10v1.39h-4.10zM165.30 452.21h1.32v1.39h-1.32zM170.86 452.21h1.32v1.39h-1.32zM165.30 453.67h1.32v1.39h-1.32zM165.30 455.13h1.32v1.39h-1.32zM169.47 455.13h2.71v1.39h-2.71zM165.30 456.59h1.32v1.39h-1.32zM170.86 456.59h1.32v1.39h-1.32zM165.30 458.05h1.32v1.39h-1.32zM170.86 458.05h1.32v1.39h-1.32zM166.69 459.51h4.10v1.39h-4.10zM165.30 452.21h1.32v7.23h-1.32zM170.86 455.13h1.32v4.31h-1.32zM175.03 450.75h1.32v1.39h-1.32zM175.03 452.21h1.32v1.39h-1.32zM175.03 453.67h1.32v1.39h-1.32zM175.03 455.13h1.32v1.39h-1.32zM175.03 456.59h1.32v1.39h-1.32zM175.03 458.05h1.32v1.39h-1.32zM175.03 459.51h6.87v1.39h-6.87zM175.03 450.75h1.32v10.15h-1.32z"/>
<path fill="#b06fd8" d="M227.48 458.00h3.79v1.27h-3.79zM226.20 459.34h1.22v1.27h-1.22zM231.33 459.34h1.22v1.27h-1.22zM226.20 460.68h1.22v1.27h-1.22zM226.20 462.01h1.22v1.27h-1.22zM230.05 462.01h2.50v1.27h-2.50zM226.20 463.35h1.22v1.27h-1.22zM231.33 463.35h1.22v1.27h-1.22zM226.20 464.69h1.22v1.27h-1.22zM231.33 464.69h1.22v1.27h-1.22zM227.48 466.03h3.79v1.27h-3.79zM226.20 459.34h1.22v6.62h-1.22zM231.33 462.01h1.22v3.95h-1.22zM235.18 458.00h1.22v1.27h-1.22zM235.18 459.34h1.22v1.27h-1.22zM235.18 460.68h1.22v1.27h-1.22zM235.18 462.01h1.22v1.27h-1.22zM235.18 463.35h1.22v1.27h-1.22zM235.18 464.69h1.22v1.27h-1.22zM235.18 466.03h6.35v1.27h-6.35zM235.18 458.00h1.22v9.30h-1.22zM245.45 458.00h3.79v1.27h-3.79zM244.17 459.34h1.22v1.27h-1.22zM249.30 459.34h1.22v1.27h-1.22zM244.17 460.68h1.22v1.27h-1.22zM249.30 460.68h1.22v1.27h-1.22zM244.17 462.01h6.35v1.27h-6.35zM244.17 463.35h1.22v1.27h-1.22zM249.30 463.35h1.22v1.27h-1.22zM244.17 464.69h1.22v1.27h-1.22zM249.30 464.69h1.22v1.27h-1.22zM244.17 466.03h1.22v1.27h-1.22zM249.30 466.03h1.22v1.27h-1.22zM244.17 459.34h1.22v7.96h-1.22zM249.30 459.34h1.22v7.96h-1.22zM253.15 458.00h5.07v1.27h-5.07zM253.15 459.34h1.22v1.27h-1.22zM258.28 459.34h1.22v1.27h-1.22zM253.15 460.68h1.22v1.27h-1.22zM258.28 460.68h1.22v1.27h-1.22zM253.15 462.01h1.22v1.27h-1.22zM258.28 462.01h1.22v1.27h-1.22zM253.15 463.35h1.22v1.27h-1.22zM258.28 463.35h1.22v1.27h-1.22zM253.15 464.69h1.22v1.27h-1.22zM258.28 464.69h1.22v1.27h-1.22zM253.15 466.03h5.07v1.27h-5.07zM253.15 458.00h1.22v9.30h-1.22zM258.28 459.34h1.22v6.62h-1.22z"/>
<g fill="#4ab8d6" stroke="#4ab8d6" stroke-width="0"><g transform="translate(362.00 563.75)"><path fill-rule="evenodd" d="M6 -11.55 A5.6 5.78 0 1 1 6 0 A5.6 5.78 0 1 1 6 -11.55 Z M6 -9.45 A3.45 3.68 0 1 0 6 -2.1 A3.45 3.68 0 1 0 6 -9.45 Z"/></g><g transform="translate(374.00 563.75)"><rect x="1.6" y="-8.75" width="2.1" height="12.0"/><rect x="-0.2" y="-8.75" width="3.9" height="1.5"/><rect x="-0.2" y="2.5" width="6.2" height="1.5"/><ellipse cx="6.6" cy="-4.35" rx="3.95" ry="3.65" fill="none" stroke-width="2.0"/></g><g transform="translate(386.00 563.75)"><ellipse cx="6.6" cy="-4.38" rx="4.25" ry="3.65" fill="none" stroke-width="2.0"/><rect x="1.6" y="-5.0" width="10.2" height="1.5"/><rect x="9.3" y="-3.5" width="3.2" height="1.6" fill="#bdeaf8"/></g><g transform="translate(398.00 563.75)"><rect x="2.0" y="-8.75" width="2.1" height="8.75"/><rect x="0.8" y="-8.75" width="3.3" height="1.5"/><path fill="none" stroke-width="2.0" d="M3.2 -6.2 C4.5 -7.9 6.2 -7.9 7.5 -7.8 C9.0 -7.6 9.1 -6.4 9.1 -5.0 V-0.5"/><rect x="0.8" y="-1.5" width="4.4" height="1.5"/><rect x="7.4" y="-1.5" width="3.9" height="1.5"/></g><g transform="translate(410.00 563.75)"><path fill="none" stroke-width="2.1" d="M10.9 -9.0 C9.8 -10.6 8.2 -10.5 6.6 -10.5 C3.4 -10.5 2.2 -8.4 2.2 -5.8 C2.2 -3.0 3.6 -1.05 6.6 -1.05 C8.8 -1.05 10.0 -1.6 11.0 -2.4"/><rect x="10.0" y="-11.55" width="2.0" height="3.9"/><rect x="7.6" y="-5.5" width="4.4" height="1.5"/><rect x="10.0" y="-5.5" width="2.0" height="4.6"/></g><g transform="translate(422.00 563.75)"><rect x="3.0" y="-11.55" width="2.1" height="11.55"/><rect x="1.0" y="-11.55" width="6.2" height="1.5"/><rect x="1.0" y="-1.5" width="10.0" height="1.5"/><rect x="9.0" y="-4.8" width="2.0" height="4.8"/></g><g transform="translate(446.00 563.75)"><path fill="none" stroke-width="1.8" stroke-linecap="round" d="M9.2 -13.0 L2.9 1.4"/></g><g transform="translate(470.00 563.75)"><path fill-rule="evenodd" d="M6 -11.55 A5.6 5.78 0 1 1 6 0 A5.6 5.78 0 1 1 6 -11.55 Z M6 -9.45 A3.45 3.68 0 1 0 6 -2.1 A3.45 3.68 0 1 0 6 -9.45 Z"/></g><g transform="translate(482.00 563.75)"><rect x="1.6" y="-8.75" width="2.1" height="12.0"/><rect x="-0.2" y="-8.75" width="3.9" height="1.5"/><rect x="-0.2" y="2.5" width="6.2" height="1.5"/><ellipse cx="6.6" cy="-4.35" rx="3.95" ry="3.65" fill="none" stroke-width="2.0"/></g><g transform="translate(494.00 563.75)"><ellipse cx="6.6" cy="-4.38" rx="4.25" ry="3.65" fill="none" stroke-width="2.0"/><rect x="1.6" y="-5.0" width="10.2" height="1.5"/><rect x="9.3" y="-3.5" width="3.2" height="1.6" fill="#bdeaf8"/></g><g transform="translate(506.00 563.75)"><rect x="2.0" y="-8.75" width="2.1" height="8.75"/><rect x="0.8" y="-8.75" width="3.3" height="1.5"/><path fill="none" stroke-width="2.0" d="M3.2 -6.2 C4.5 -7.9 6.2 -7.9 7.5 -7.8 C9.0 -7.6 9.1 -6.4 9.1 -5.0 V-0.5"/><rect x="0.8" y="-1.5" width="4.4" height="1.5"/><rect x="7.4" y="-1.5" width="3.9" height="1.5"/></g><g transform="translate(518.00 563.75)"><path fill="none" stroke-width="2.1" d="M10.9 -9.0 C9.8 -10.6 8.2 -10.5 6.6 -10.5 C3.4 -10.5 2.2 -8.4 2.2 -5.8 C2.2 -3.0 3.6 -1.05 6.6 -1.05 C8.8 -1.05 10.0 -1.6 11.0 -2.4"/><rect x="10.0" y="-11.55" width="2.0" height="3.9"/><rect x="7.6" y="-5.5" width="4.4" height="1.5"/><rect x="10.0" y="-5.5" width="2.0" height="4.6"/></g><g transform="translate(530.00 563.75)"><rect x="3.0" y="-11.55" width="2.1" height="11.55"/><rect x="1.0" y="-11.55" width="6.2" height="1.5"/><rect x="1.0" y="-1.5" width="10.0" height="1.5"/><rect x="9.0" y="-4.8" width="2.0" height="4.8"/></g><g transform="translate(554.00 563.75)"><rect x="2.2" y="-11.55" width="2.1" height="11.55"/><rect x="0.25" y="-11.55" width="10.65" height="1.5"/><rect x="0.25" y="-1.5" width="10.65" height="1.5"/><rect x="4.0" y="-6.6" width="4.4" height="1.5"/><rect x="7.0" y="-7.9" width="1.6" height="4.1"/><rect x="9.0" y="-11.55" width="1.9" height="3.3"/><rect x="9.0" y="-3.6" width="1.9" height="3.6"/></g><g transform="translate(566.00 563.75)"><path fill="none" stroke-width="2.0" d="M10.0 -9.3 C9.0 -10.6 7.6 -10.6 6.0 -10.6 C3.6 -10.6 2.4 -9.6 2.4 -8.2 C2.4 -6.4 4.4 -6.0 6.2 -5.6 C8.6 -5.1 10.2 -4.4 10.2 -2.8 C10.2 -1.4 8.8 -1.0 6.2 -1.0 C4.2 -1.0 2.8 -1.3 1.9 -2.6"/><rect x="9.1" y="-11.55" width="1.9" height="3.4"/><rect x="1.0" y="-3.6" width="1.9" height="3.6"/></g></g>
<g fill="#e2ca45" stroke="#e2ca45" stroke-width="0"><g transform="translate(1088.50 563.75)"><path fill-rule="evenodd" d="M6 -11.55 A5.6 5.78 0 1 1 6 0 A5.6 5.78 0 1 1 6 -11.55 Z M6 -9.45 A3.45 3.68 0 1 0 6 -2.1 A3.45 3.68 0 1 0 6 -9.45 Z"/></g><g transform="translate(1100.50 563.75)"><rect x="1.6" y="-8.75" width="2.1" height="12.0"/><rect x="-0.2" y="-8.75" width="3.9" height="1.5"/><rect x="-0.2" y="2.5" width="6.2" height="1.5"/><ellipse cx="6.6" cy="-4.35" rx="3.95" ry="3.65" fill="none" stroke-width="2.0"/></g><g transform="translate(1112.50 563.75)"><ellipse cx="6.6" cy="-4.38" rx="4.25" ry="3.65" fill="none" stroke-width="2.0"/><rect x="1.6" y="-5.0" width="10.2" height="1.5"/><rect x="9.3" y="-3.5" width="3.2" height="1.6" fill="#fffcb8"/></g><g transform="translate(1124.50 563.75)"><rect x="2.0" y="-8.75" width="2.1" height="8.75"/><rect x="0.8" y="-8.75" width="3.3" height="1.5"/><path fill="none" stroke-width="2.0" d="M3.2 -6.2 C4.5 -7.9 6.2 -7.9 7.5 -7.8 C9.0 -7.6 9.1 -6.4 9.1 -5.0 V-0.5"/><rect x="0.8" y="-1.5" width="4.4" height="1.5"/><rect x="7.4" y="-1.5" width="3.9" height="1.5"/></g><g transform="translate(1136.50 563.75)"><path fill="none" stroke-width="2.1" d="M5.6 -10.6 L2.6 -0.8 M7.6 -10.6 L11.2 -0.8"/><rect x="3.2" y="-11.55" width="5.2" height="1.5"/><rect x="3.6" y="-4.6" width="6.4" height="1.5"/><rect x="1.2" y="-1.5" width="4.5" height="1.5"/><rect x="8.6" y="-1.5" width="5.2" height="1.5"/></g><g transform="translate(1148.50 563.75)"><rect x="3.0" y="-11.55" width="2.1" height="11.55"/><rect x="1.0" y="-11.55" width="6.2" height="1.5"/><rect x="1.0" y="-1.5" width="10.0" height="1.5"/><rect x="9.0" y="-4.8" width="2.0" height="4.8"/></g></g>
<g fill="#707070"><polygon points="902.2,648.8 915.7,646.4 915.7,660.8 902.2,660.8"/><polygon points="918.0,645.8 939.5,641.8 939.5,660.8 918.0,660.8"/><polygon points="902.2,663.1 915.7,663.1 915.7,677.8 902.2,675.1"/><polygon points="918.0,663.3 939.5,663.3 939.5,682.5 918.0,678.2"/></g>
<g transform="translate(940 638) scale(0.066667)"><path fill="#4e4e4e" d="M335 85 C280 85 255 130 255 200 C255 250 250 280 225 320 C195 370 165 430 170 480 L210 520 L290 605 L440 605 L500 525 C545 485 548 420 522 370 C485 320 432 270 425 200 C420 130 395 85 335 85 Z"/><path fill="#f5f5f5" d="M292 292 C320 305 372 305 402 288 C415 335 442 380 452 430 C448 470 432 520 412 560 C380 592 320 592 290 572 C250 532 215 472 215 422 C230 372 270 332 292 292 Z"/><ellipse cx="298" cy="192" rx="15" ry="17" fill="#c8c8c8"/><ellipse cx="368" cy="192" rx="15" ry="17" fill="#c8c8c8"/><ellipse cx="322" cy="238" rx="40" ry="20" fill="#eeeeee"/><path fill="#f5f5f5" stroke="#505050" stroke-width="15" stroke-linejoin="round" d="M108 522 L162 505 L245 545 L292 612 L255 652 L115 615 Z"/><path fill="#f5f5f5" stroke="#505050" stroke-width="15" stroke-linejoin="round" d="M445 505 L540 515 L585 572 L535 605 L445 645 L425 590 Z"/></g>
<path fill="#747474" transform="translate(984.247 637.203) scale(0.08836 0.09367)" d="M318.7 268.7c-.2-36.7 16.4-64.4 50-84.8-18.8-26.9-47.2-41.7-84.7-44.6-35.5-2.8-74.3 20.7-88.5 20.7-15 0-49.4-19.7-76.4-19.7C63.3 141.2 4 184.8 4 273.5q0 39.3 14.4 81.2c12.8 36.7 59 126.7 107.2 125.2 25.2-.6 43-17.9 75.8-17.9 31.8 0 48.3 17.9 76.4 17.9 48.6-.7 90.4-82.5 102.6-119.3-65.2-30.7-61.7-90-61.7-91.9zm-56.6-164.2c27.3-32.4 24.8-61.9 24-72.5-24.1 1.4-52 16.4-67.9 34.9-17.5 19.8-27.8 44.3-25.6 71.9 26.1 2 49.9-11.4 69.5-34.3z"/>
<g fill="#707070"><path d="M1032.6 651.0 A10.9 9.4 0 0 1 1054.4 651.0 Z"/><path d="M1032.6 652.1 H1054.4 V672.3 Q1054.4 673.8 1052.9 673.8 H1034.1 Q1032.6 673.8 1032.6 672.3 Z"/><rect x="1027.2" y="650.7" width="4.1" height="18.2" rx="2.05"/><rect x="1055.8" y="650.7" width="4.1" height="18.2" rx="2.05"/><rect x="1036.6" y="670" width="4.6" height="11.8" rx="2.3"/><rect x="1046.3" y="670" width="4.6" height="11.8" rx="2.3"/></g><g stroke="#707070" stroke-width="0.9" stroke-linecap="round"><line x1="1035.6" y1="640.8" x2="1037.8" y2="643.8"/><line x1="1051.4" y1="640.8" x2="1049.2" y2="643.8"/></g><rect x="1037.8" y="645.3" width="1.8" height="1.8" fill="#f5f5f5"/><rect x="1047.4" y="645.3" width="1.8" height="1.8" fill="#f5f5f5"/>
<g transform="translate(1062 636) scale(0.069444)"><path fill="#9e9e9e" stroke="#5e5e5e" stroke-width="18" stroke-linejoin="round" d="M120 112 C175 85 290 100 318 232 C230 255 130 225 120 112 Z"/><path fill="#9e9e9e" stroke="#5e5e5e" stroke-width="18" stroke-linejoin="round" d="M518 108 C462 82 345 97 322 232 C410 255 510 222 518 108 Z"/><path fill="none" stroke="#6a6a6a" stroke-width="10" d="M185 150 L300 220 M455 145 L340 220"/><path fill="#5e5e5e" d="M320 238 C420 238 480 270 480 340 C520 380 520 460 490 520 C480 590 420 640 320 650 C220 640 160 590 150 520 C120 460 120 380 160 340 C160 270 220 238 320 238 Z"/><g fill="#9e9e9e" stroke="#5e5e5e" stroke-width="16"><ellipse cx="320" cy="280" rx="62" ry="38"/><ellipse cx="195" cy="300" rx="48" ry="42" transform="rotate(-30 195 300)"/><ellipse cx="445" cy="300" rx="48" ry="42" transform="rotate(30 445 300)"/><ellipse cx="245" cy="388" rx="64" ry="68"/><ellipse cx="395" cy="388" rx="64" ry="68"/><ellipse cx="132" cy="418" rx="34" ry="60"/><ellipse cx="508" cy="418" rx="34" ry="60"/><ellipse cx="320" cy="500" rx="66" ry="62"/><ellipse cx="195" cy="530" rx="50" ry="64" transform="rotate(-30 195 530)"/><ellipse cx="445" cy="530" rx="50" ry="64" transform="rotate(30 445 530)"/><ellipse cx="320" cy="612" rx="64" ry="40"/></g></g>
<path fill="#262626" d="M1108.7 639.6h1.8v2h2.1v-2h1.8v5.5h-1.8v-2.1h-2.1v2.1h-1.8z M1115 639.6h6v1.5h-2.1v4h-1.8v-4h-2.1z M1121.7 639.6h2.1l1.35 2.5 1.35-2.5h2.1v5.5h-1.7v-3l-1.1 2h-1.3l-1.1-2v3h-1.7z M1129.5 639.6h1.8v4h2.3v1.5h-4.1z"/>
<path fill="#787878" d="M1106.1 647.8 H1135.8 L1133.1 678.2 L1120.9 681.6 L1108.8 678.2 Z"/>
<path fill="#e6e6e6" d="M1111.3 653.9 H1130.4 L1130.0 658.2 H1116.2 V662.3 H1129.6 L1128.7 673.4 L1120.9 675.7 L1113.2 673.4 L1112.8 667.3 H1116.9 L1117.1 670.3 L1120.9 671.3 L1124.7 670.3 L1125.0 666.3 H1111.9 Z"/>
<path fill="#666666" fill-rule="evenodd" d="M1158.4 648 H1179 A15.5 15.5 0 0 1 1179 679 H1158.4 A15.5 15.5 0 0 1 1158.4 648 Z M1158.4 657.9 A5.7 5.7 0 0 0 1158.4 669.3 H1178.9 A5.7 5.7 0 0 0 1178.9 657.9 Z"/>
</svg>
</body></html>
